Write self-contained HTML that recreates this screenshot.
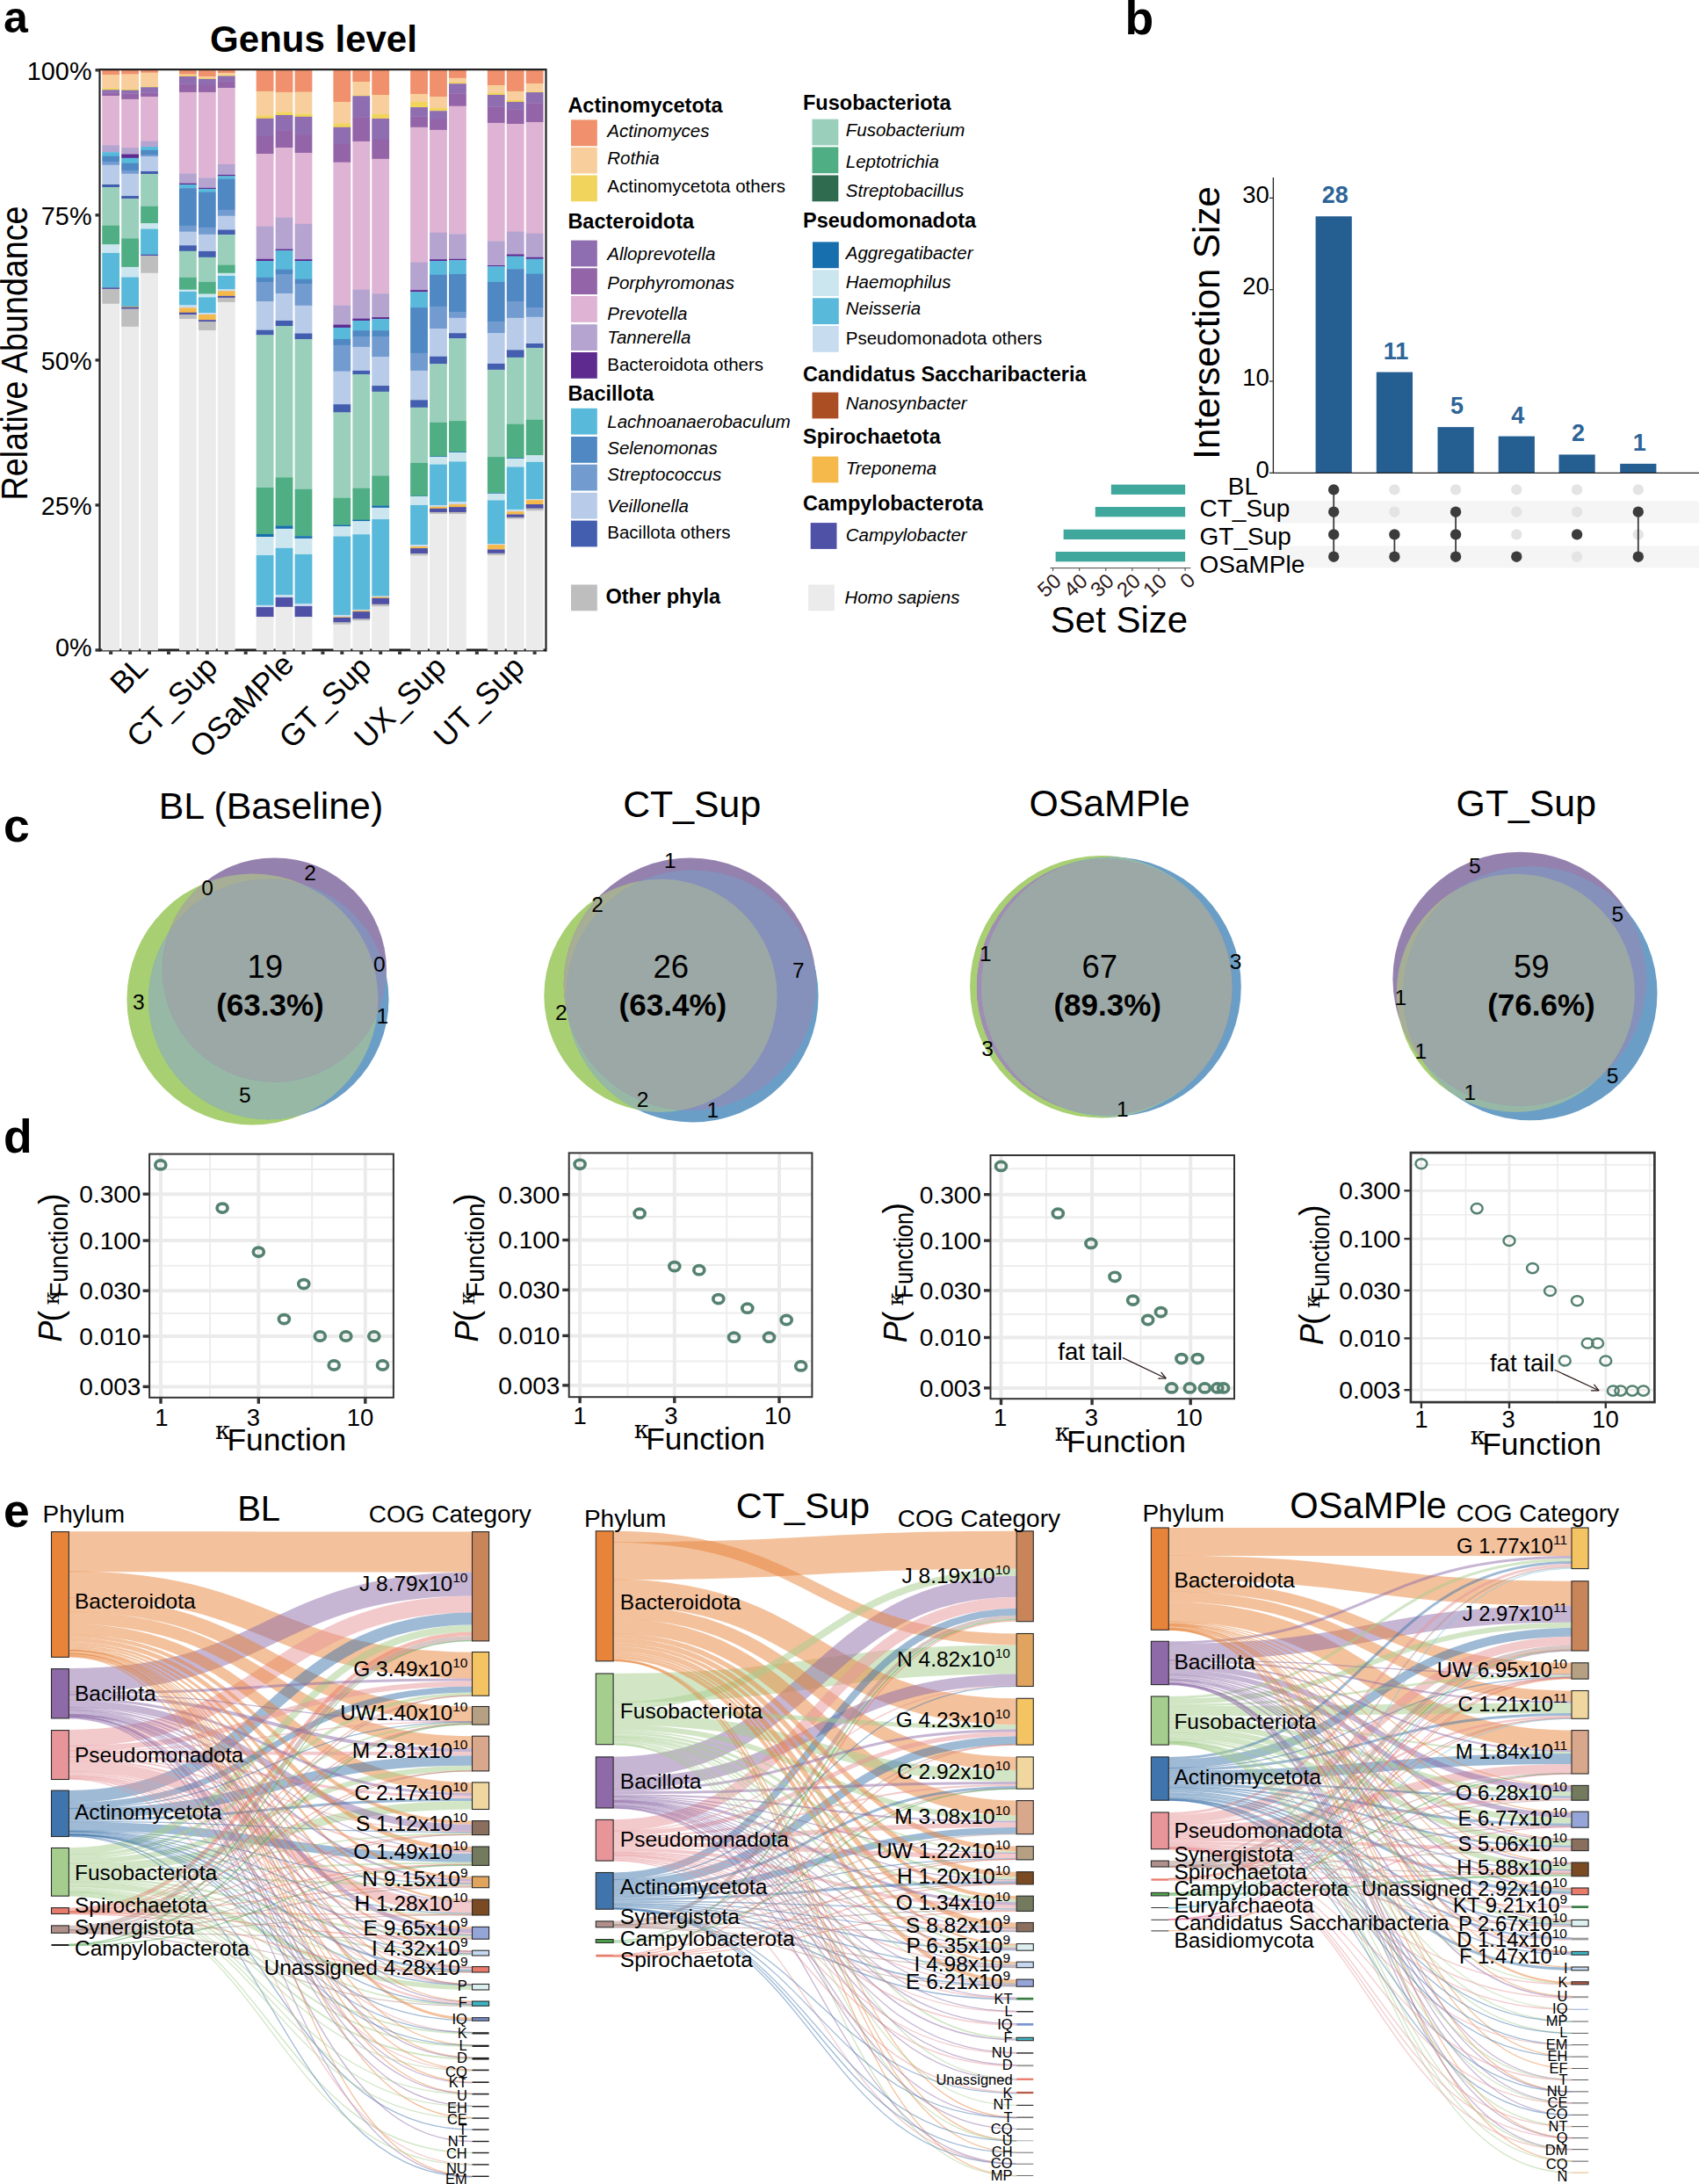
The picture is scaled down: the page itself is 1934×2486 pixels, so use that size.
<!DOCTYPE html>
<html><head><meta charset="utf-8"><title>Figure</title>
<style>html,body{margin:0;padding:0;background:#fff}svg{display:block}text{font-family:"Liberation Sans", sans-serif}</style>
</head><body>
<svg width="1934" height="2486" viewBox="0 0 1934 2486">
<rect width="1934" height="2486" fill="#fff"/>
<line x1="112.00" y1="740.00" x2="622.00" y2="740.00" stroke="#222" stroke-width="3"/>
<rect x="116.26" y="79.70" width="19.80" height="5.57" fill="#F0906C"/>
<rect x="116.26" y="84.97" width="19.80" height="15.64" fill="#F8CF9C"/>
<rect x="116.26" y="100.31" width="19.80" height="2.29" fill="#F0D45C"/>
<rect x="116.26" y="102.30" width="19.80" height="3.37" fill="#8E6DB0"/>
<rect x="116.26" y="105.37" width="19.80" height="3.98" fill="#9464A9"/>
<rect x="116.26" y="109.05" width="19.80" height="56.44" fill="#DFB3D3"/>
<rect x="116.26" y="165.20" width="19.80" height="8.28" fill="#B5A3D0"/>
<rect x="116.26" y="173.17" width="19.80" height="4.90" fill="#58B9DB"/>
<rect x="116.26" y="177.78" width="19.80" height="6.44" fill="#4F88C3"/>
<rect x="116.26" y="183.91" width="19.80" height="4.13" fill="#729BD0"/>
<rect x="116.26" y="187.75" width="19.80" height="22.54" fill="#B8CCE9"/>
<rect x="116.26" y="209.99" width="19.80" height="3.37" fill="#435EAF"/>
<rect x="116.26" y="213.06" width="19.80" height="44.02" fill="#9AD0BB"/>
<rect x="116.26" y="256.78" width="19.80" height="21.78" fill="#4FAE84"/>
<rect x="116.26" y="278.25" width="19.80" height="9.96" fill="#CBE6EE"/>
<rect x="116.26" y="287.92" width="19.80" height="39.72" fill="#58B9DB"/>
<rect x="116.26" y="327.34" width="19.80" height="1.83" fill="#4E51A6"/>
<rect x="116.26" y="328.87" width="19.80" height="17.17" fill="#BEBEBE"/>
<rect x="116.26" y="345.75" width="19.80" height="394.55" fill="#EBEBEB"/>
<rect x="138.19" y="79.70" width="19.80" height="5.11" fill="#F0906C"/>
<rect x="138.19" y="84.51" width="19.80" height="17.17" fill="#F8CF9C"/>
<rect x="138.19" y="101.38" width="19.80" height="1.53" fill="#F0D45C"/>
<rect x="138.19" y="102.61" width="19.80" height="4.13" fill="#8E6DB0"/>
<rect x="138.19" y="106.45" width="19.80" height="6.74" fill="#9464A9"/>
<rect x="138.19" y="112.89" width="19.80" height="55.52" fill="#DFB3D3"/>
<rect x="138.19" y="168.11" width="19.80" height="7.66" fill="#B5A3D0"/>
<rect x="138.19" y="175.48" width="19.80" height="4.60" fill="#5E2A90"/>
<rect x="138.19" y="179.77" width="19.80" height="6.28" fill="#58B9DB"/>
<rect x="138.19" y="185.75" width="19.80" height="8.43" fill="#4F88C3"/>
<rect x="138.19" y="193.88" width="19.80" height="4.13" fill="#729BD0"/>
<rect x="138.19" y="197.72" width="19.80" height="25.61" fill="#B8CCE9"/>
<rect x="138.19" y="223.03" width="19.80" height="3.37" fill="#435EAF"/>
<rect x="138.19" y="226.10" width="19.80" height="45.55" fill="#9AD0BB"/>
<rect x="138.19" y="271.35" width="19.80" height="32.82" fill="#4FAE84"/>
<rect x="138.19" y="303.87" width="19.80" height="11.96" fill="#CBE6EE"/>
<rect x="138.19" y="315.53" width="19.80" height="33.59" fill="#58B9DB"/>
<rect x="138.19" y="348.82" width="19.80" height="1.07" fill="#F4B94A"/>
<rect x="138.19" y="349.58" width="19.80" height="2.29" fill="#4E51A6"/>
<rect x="138.19" y="351.58" width="19.80" height="20.55" fill="#BEBEBE"/>
<rect x="138.19" y="371.82" width="19.80" height="368.48" fill="#EBEBEB"/>
<rect x="160.12" y="79.70" width="19.80" height="3.27" fill="#F0906C"/>
<rect x="160.12" y="82.67" width="19.80" height="15.95" fill="#F8CF9C"/>
<rect x="160.12" y="98.32" width="19.80" height="1.22" fill="#F0D45C"/>
<rect x="160.12" y="99.24" width="19.80" height="6.44" fill="#8E6DB0"/>
<rect x="160.12" y="105.37" width="19.80" height="4.90" fill="#9464A9"/>
<rect x="160.12" y="109.97" width="19.80" height="50.92" fill="#DFB3D3"/>
<rect x="160.12" y="160.60" width="19.80" height="6.74" fill="#B5A3D0"/>
<rect x="160.12" y="167.04" width="19.80" height="4.13" fill="#58B9DB"/>
<rect x="160.12" y="170.87" width="19.80" height="5.36" fill="#4F88C3"/>
<rect x="160.12" y="175.94" width="19.80" height="2.45" fill="#729BD0"/>
<rect x="160.12" y="178.08" width="19.80" height="17.17" fill="#B8CCE9"/>
<rect x="160.12" y="194.96" width="19.80" height="3.37" fill="#435EAF"/>
<rect x="160.12" y="198.03" width="19.80" height="37.12" fill="#9AD0BB"/>
<rect x="160.12" y="234.84" width="19.80" height="19.63" fill="#4FAE84"/>
<rect x="160.12" y="254.17" width="19.80" height="6.74" fill="#CBE6EE"/>
<rect x="160.12" y="260.61" width="19.80" height="29.45" fill="#58B9DB"/>
<rect x="160.12" y="289.76" width="19.80" height="1.53" fill="#4E51A6"/>
<rect x="160.12" y="290.98" width="19.80" height="20.09" fill="#BEBEBE"/>
<rect x="160.12" y="310.77" width="19.80" height="429.53" fill="#EBEBEB"/>
<rect x="203.98" y="79.70" width="19.80" height="5.11" fill="#F0906C"/>
<rect x="203.98" y="84.51" width="19.80" height="1.53" fill="#F8CF9C"/>
<rect x="203.98" y="85.74" width="19.80" height="1.53" fill="#F0D45C"/>
<rect x="203.98" y="86.97" width="19.80" height="8.58" fill="#8E6DB0"/>
<rect x="203.98" y="95.25" width="19.80" height="9.96" fill="#9464A9"/>
<rect x="203.98" y="104.91" width="19.80" height="92.80" fill="#DFB3D3"/>
<rect x="203.98" y="197.41" width="19.80" height="11.65" fill="#B5A3D0"/>
<rect x="203.98" y="208.76" width="19.80" height="1.53" fill="#5E2A90"/>
<rect x="203.98" y="209.99" width="19.80" height="4.44" fill="#58B9DB"/>
<rect x="203.98" y="214.13" width="19.80" height="42.94" fill="#4F88C3"/>
<rect x="203.98" y="256.78" width="19.80" height="7.20" fill="#729BD0"/>
<rect x="203.98" y="263.68" width="19.80" height="15.95" fill="#B8CCE9"/>
<rect x="203.98" y="279.33" width="19.80" height="6.74" fill="#435EAF"/>
<rect x="203.98" y="285.77" width="19.80" height="30.37" fill="#9AD0BB"/>
<rect x="203.98" y="315.83" width="19.80" height="14.11" fill="#4FAE84"/>
<rect x="203.98" y="329.64" width="19.80" height="2.60" fill="#CBE6EE"/>
<rect x="203.98" y="331.94" width="19.80" height="15.64" fill="#58B9DB"/>
<rect x="203.98" y="347.28" width="19.80" height="3.37" fill="#C8DCF0"/>
<rect x="203.98" y="350.35" width="19.80" height="5.67" fill="#F4B94A"/>
<rect x="203.98" y="355.72" width="19.80" height="2.60" fill="#4E51A6"/>
<rect x="203.98" y="358.02" width="19.80" height="5.21" fill="#BEBEBE"/>
<rect x="203.98" y="362.93" width="19.80" height="377.37" fill="#EBEBEB"/>
<rect x="225.91" y="79.70" width="19.80" height="7.57" fill="#F0906C"/>
<rect x="225.91" y="86.97" width="19.80" height="2.45" fill="#F8CF9C"/>
<rect x="225.91" y="89.11" width="19.80" height="1.07" fill="#F0D45C"/>
<rect x="225.91" y="89.88" width="19.80" height="7.20" fill="#8E6DB0"/>
<rect x="225.91" y="96.78" width="19.80" height="8.43" fill="#9464A9"/>
<rect x="225.91" y="104.91" width="19.80" height="97.71" fill="#DFB3D3"/>
<rect x="225.91" y="202.32" width="19.80" height="11.80" fill="#B5A3D0"/>
<rect x="225.91" y="213.82" width="19.80" height="1.37" fill="#5E2A90"/>
<rect x="225.91" y="214.90" width="19.80" height="4.13" fill="#58B9DB"/>
<rect x="225.91" y="218.73" width="19.80" height="40.34" fill="#4F88C3"/>
<rect x="225.91" y="258.77" width="19.80" height="8.28" fill="#729BD0"/>
<rect x="225.91" y="266.75" width="19.80" height="19.47" fill="#B8CCE9"/>
<rect x="225.91" y="285.92" width="19.80" height="7.20" fill="#435EAF"/>
<rect x="225.91" y="292.82" width="19.80" height="28.37" fill="#9AD0BB"/>
<rect x="225.91" y="320.90" width="19.80" height="13.95" fill="#4FAE84"/>
<rect x="225.91" y="334.55" width="19.80" height="4.13" fill="#CBE6EE"/>
<rect x="225.91" y="338.38" width="19.80" height="17.94" fill="#58B9DB"/>
<rect x="225.91" y="356.02" width="19.80" height="2.29" fill="#C8DCF0"/>
<rect x="225.91" y="358.02" width="19.80" height="6.44" fill="#F4B94A"/>
<rect x="225.91" y="364.15" width="19.80" height="2.29" fill="#4E51A6"/>
<rect x="225.91" y="366.15" width="19.80" height="10.12" fill="#BEBEBE"/>
<rect x="225.91" y="375.97" width="19.80" height="364.33" fill="#EBEBEB"/>
<rect x="247.84" y="79.70" width="19.80" height="3.58" fill="#F0906C"/>
<rect x="247.84" y="82.98" width="19.80" height="2.75" fill="#F8CF9C"/>
<rect x="247.84" y="85.43" width="19.80" height="1.37" fill="#F0D45C"/>
<rect x="247.84" y="86.50" width="19.80" height="5.98" fill="#8E6DB0"/>
<rect x="247.84" y="92.18" width="19.80" height="8.12" fill="#9464A9"/>
<rect x="247.84" y="100.00" width="19.80" height="87.28" fill="#DFB3D3"/>
<rect x="247.84" y="186.98" width="19.80" height="12.27" fill="#B5A3D0"/>
<rect x="247.84" y="198.95" width="19.80" height="1.68" fill="#5E2A90"/>
<rect x="247.84" y="200.33" width="19.80" height="3.52" fill="#58B9DB"/>
<rect x="247.84" y="203.55" width="19.80" height="35.58" fill="#4F88C3"/>
<rect x="247.84" y="238.83" width="19.80" height="7.20" fill="#729BD0"/>
<rect x="247.84" y="245.73" width="19.80" height="16.10" fill="#B8CCE9"/>
<rect x="247.84" y="261.53" width="19.80" height="5.82" fill="#435EAF"/>
<rect x="247.84" y="267.05" width="19.80" height="34.81" fill="#9AD0BB"/>
<rect x="247.84" y="301.57" width="19.80" height="9.50" fill="#4FAE84"/>
<rect x="247.84" y="310.77" width="19.80" height="3.52" fill="#CBE6EE"/>
<rect x="247.84" y="313.99" width="19.80" height="15.49" fill="#58B9DB"/>
<rect x="247.84" y="329.18" width="19.80" height="2.29" fill="#C8DCF0"/>
<rect x="247.84" y="331.17" width="19.80" height="5.98" fill="#F4B94A"/>
<rect x="247.84" y="336.85" width="19.80" height="2.29" fill="#4E51A6"/>
<rect x="247.84" y="338.84" width="19.80" height="5.36" fill="#BEBEBE"/>
<rect x="247.84" y="343.91" width="19.80" height="396.39" fill="#EBEBEB"/>
<rect x="291.70" y="79.70" width="19.80" height="24.44" fill="#F0906C"/>
<rect x="291.70" y="103.84" width="19.80" height="27.76" fill="#F8CF9C"/>
<rect x="291.70" y="131.30" width="19.80" height="3.83" fill="#F0D45C"/>
<rect x="291.70" y="134.83" width="19.80" height="20.24" fill="#8E6DB0"/>
<rect x="291.70" y="154.77" width="19.80" height="20.55" fill="#9464A9"/>
<rect x="291.70" y="175.02" width="19.80" height="82.83" fill="#DFB3D3"/>
<rect x="291.70" y="257.54" width="19.80" height="37.58" fill="#B5A3D0"/>
<rect x="291.70" y="294.82" width="19.80" height="2.45" fill="#5E2A90"/>
<rect x="291.70" y="296.97" width="19.80" height="19.17" fill="#58B9DB"/>
<rect x="291.70" y="315.83" width="19.80" height="5.36" fill="#4F88C3"/>
<rect x="291.70" y="320.90" width="19.80" height="22.54" fill="#729BD0"/>
<rect x="291.70" y="343.14" width="19.80" height="32.82" fill="#B8CCE9"/>
<rect x="291.70" y="375.66" width="19.80" height="5.98" fill="#435EAF"/>
<rect x="291.70" y="381.34" width="19.80" height="173.99" fill="#9AD0BB"/>
<rect x="291.70" y="555.02" width="19.80" height="53.22" fill="#4FAE84"/>
<rect x="291.70" y="607.95" width="19.80" height="3.37" fill="#176FAE"/>
<rect x="291.70" y="611.01" width="19.80" height="21.32" fill="#CBE6EE"/>
<rect x="291.70" y="632.03" width="19.80" height="57.06" fill="#58B9DB"/>
<rect x="291.70" y="688.79" width="19.80" height="2.60" fill="#C8DCF0"/>
<rect x="291.70" y="691.09" width="19.80" height="11.34" fill="#4E51A6"/>
<rect x="291.70" y="702.13" width="19.80" height="38.17" fill="#EBEBEB"/>
<rect x="313.63" y="79.70" width="19.80" height="25.51" fill="#F0906C"/>
<rect x="313.63" y="104.91" width="19.80" height="23.00" fill="#F8CF9C"/>
<rect x="313.63" y="127.62" width="19.80" height="3.67" fill="#F0D45C"/>
<rect x="313.63" y="130.99" width="19.80" height="17.94" fill="#8E6DB0"/>
<rect x="313.63" y="148.63" width="19.80" height="19.78" fill="#9464A9"/>
<rect x="313.63" y="168.11" width="19.80" height="79.76" fill="#DFB3D3"/>
<rect x="313.63" y="247.57" width="19.80" height="36.35" fill="#B5A3D0"/>
<rect x="313.63" y="283.62" width="19.80" height="1.83" fill="#5E2A90"/>
<rect x="313.63" y="285.15" width="19.80" height="21.78" fill="#58B9DB"/>
<rect x="313.63" y="306.63" width="19.80" height="5.67" fill="#4F88C3"/>
<rect x="313.63" y="312.00" width="19.80" height="22.24" fill="#729BD0"/>
<rect x="313.63" y="333.94" width="19.80" height="31.29" fill="#B8CCE9"/>
<rect x="313.63" y="364.92" width="19.80" height="6.44" fill="#435EAF"/>
<rect x="313.63" y="371.06" width="19.80" height="172.61" fill="#9AD0BB"/>
<rect x="313.63" y="543.36" width="19.80" height="55.52" fill="#4FAE84"/>
<rect x="313.63" y="598.59" width="19.80" height="3.52" fill="#176FAE"/>
<rect x="313.63" y="601.81" width="19.80" height="22.39" fill="#CBE6EE"/>
<rect x="313.63" y="623.90" width="19.80" height="53.38" fill="#58B9DB"/>
<rect x="313.63" y="676.97" width="19.80" height="3.37" fill="#C8DCF0"/>
<rect x="313.63" y="680.04" width="19.80" height="11.04" fill="#4E51A6"/>
<rect x="313.63" y="690.78" width="19.80" height="49.52" fill="#EBEBEB"/>
<rect x="335.56" y="79.70" width="19.80" height="25.21" fill="#F0906C"/>
<rect x="335.56" y="104.61" width="19.80" height="25.15" fill="#F8CF9C"/>
<rect x="335.56" y="129.46" width="19.80" height="3.67" fill="#F0D45C"/>
<rect x="335.56" y="132.83" width="19.80" height="21.16" fill="#8E6DB0"/>
<rect x="335.56" y="153.69" width="19.80" height="20.55" fill="#9464A9"/>
<rect x="335.56" y="173.94" width="19.80" height="81.14" fill="#DFB3D3"/>
<rect x="335.56" y="254.78" width="19.80" height="40.64" fill="#B5A3D0"/>
<rect x="335.56" y="295.13" width="19.80" height="2.14" fill="#5E2A90"/>
<rect x="335.56" y="296.97" width="19.80" height="21.01" fill="#58B9DB"/>
<rect x="335.56" y="317.68" width="19.80" height="5.67" fill="#4F88C3"/>
<rect x="335.56" y="323.04" width="19.80" height="25.00" fill="#729BD0"/>
<rect x="335.56" y="347.74" width="19.80" height="32.05" fill="#B8CCE9"/>
<rect x="335.56" y="379.49" width="19.80" height="6.90" fill="#435EAF"/>
<rect x="335.56" y="386.09" width="19.80" height="171.07" fill="#9AD0BB"/>
<rect x="335.56" y="556.86" width="19.80" height="53.68" fill="#4FAE84"/>
<rect x="335.56" y="610.25" width="19.80" height="2.91" fill="#176FAE"/>
<rect x="335.56" y="612.85" width="19.80" height="18.40" fill="#CBE6EE"/>
<rect x="335.56" y="630.95" width="19.80" height="56.29" fill="#58B9DB"/>
<rect x="335.56" y="686.95" width="19.80" height="3.37" fill="#C8DCF0"/>
<rect x="335.56" y="690.01" width="19.80" height="12.42" fill="#4E51A6"/>
<rect x="335.56" y="702.13" width="19.80" height="38.17" fill="#EBEBEB"/>
<rect x="379.42" y="79.70" width="19.80" height="36.56" fill="#F0906C"/>
<rect x="379.42" y="115.96" width="19.80" height="25.00" fill="#F8CF9C"/>
<rect x="379.42" y="140.65" width="19.80" height="4.44" fill="#F0D45C"/>
<rect x="379.42" y="144.80" width="19.80" height="19.47" fill="#8E6DB0"/>
<rect x="379.42" y="163.97" width="19.80" height="21.01" fill="#9464A9"/>
<rect x="379.42" y="184.68" width="19.80" height="163.21" fill="#DFB3D3"/>
<rect x="379.42" y="347.59" width="19.80" height="22.24" fill="#B5A3D0"/>
<rect x="379.42" y="369.52" width="19.80" height="3.67" fill="#5E2A90"/>
<rect x="379.42" y="372.90" width="19.80" height="13.34" fill="#58B9DB"/>
<rect x="379.42" y="385.94" width="19.80" height="7.20" fill="#4F88C3"/>
<rect x="379.42" y="392.84" width="19.80" height="30.10" fill="#729BD0"/>
<rect x="379.42" y="422.64" width="19.80" height="37.88" fill="#B8CCE9"/>
<rect x="379.42" y="460.22" width="19.80" height="9.50" fill="#435EAF"/>
<rect x="379.42" y="469.43" width="19.80" height="97.71" fill="#9AD0BB"/>
<rect x="379.42" y="566.83" width="19.80" height="30.98" fill="#4FAE84"/>
<rect x="379.42" y="597.51" width="19.80" height="1.83" fill="#176FAE"/>
<rect x="379.42" y="599.05" width="19.80" height="11.80" fill="#CBE6EE"/>
<rect x="379.42" y="610.55" width="19.80" height="89.73" fill="#58B9DB"/>
<rect x="379.42" y="699.98" width="19.80" height="2.45" fill="#C8DCF0"/>
<rect x="379.42" y="702.13" width="19.80" height="1.07" fill="#F4B94A"/>
<rect x="379.42" y="702.90" width="19.80" height="5.82" fill="#4E51A6"/>
<rect x="379.42" y="708.42" width="19.80" height="2.60" fill="#BEBEBE"/>
<rect x="379.42" y="710.72" width="19.80" height="29.58" fill="#EBEBEB"/>
<rect x="401.35" y="79.70" width="19.80" height="13.55" fill="#F0906C"/>
<rect x="401.35" y="92.95" width="19.80" height="15.64" fill="#F8CF9C"/>
<rect x="401.35" y="108.29" width="19.80" height="1.22" fill="#F0D45C"/>
<rect x="401.35" y="109.21" width="19.80" height="24.69" fill="#8E6DB0"/>
<rect x="401.35" y="133.60" width="19.80" height="27.60" fill="#9464A9"/>
<rect x="401.35" y="160.90" width="19.80" height="169.04" fill="#DFB3D3"/>
<rect x="401.35" y="329.64" width="19.80" height="33.28" fill="#B5A3D0"/>
<rect x="401.35" y="362.62" width="19.80" height="2.60" fill="#5E2A90"/>
<rect x="401.35" y="364.92" width="19.80" height="11.50" fill="#58B9DB"/>
<rect x="401.35" y="376.12" width="19.80" height="7.05" fill="#4F88C3"/>
<rect x="401.35" y="382.87" width="19.80" height="12.27" fill="#729BD0"/>
<rect x="401.35" y="394.83" width="19.80" height="27.34" fill="#B8CCE9"/>
<rect x="401.35" y="421.87" width="19.80" height="4.60" fill="#435EAF"/>
<rect x="401.35" y="426.17" width="19.80" height="129.92" fill="#9AD0BB"/>
<rect x="401.35" y="555.79" width="19.80" height="36.20" fill="#4FAE84"/>
<rect x="401.35" y="591.69" width="19.80" height="1.83" fill="#176FAE"/>
<rect x="401.35" y="593.22" width="19.80" height="15.33" fill="#CBE6EE"/>
<rect x="401.35" y="608.25" width="19.80" height="85.90" fill="#58B9DB"/>
<rect x="401.35" y="693.85" width="19.80" height="1.37" fill="#C8DCF0"/>
<rect x="401.35" y="694.92" width="19.80" height="1.53" fill="#F4B94A"/>
<rect x="401.35" y="696.15" width="19.80" height="8.58" fill="#4E51A6"/>
<rect x="401.35" y="704.43" width="19.80" height="2.29" fill="#BEBEBE"/>
<rect x="401.35" y="706.43" width="19.80" height="33.87" fill="#EBEBEB"/>
<rect x="423.28" y="79.70" width="19.80" height="28.58" fill="#F0906C"/>
<rect x="423.28" y="107.98" width="19.80" height="22.24" fill="#F8CF9C"/>
<rect x="423.28" y="129.92" width="19.80" height="5.36" fill="#F0D45C"/>
<rect x="423.28" y="134.98" width="19.80" height="24.23" fill="#8E6DB0"/>
<rect x="423.28" y="158.91" width="19.80" height="22.24" fill="#9464A9"/>
<rect x="423.28" y="180.84" width="19.80" height="153.70" fill="#DFB3D3"/>
<rect x="423.28" y="334.24" width="19.80" height="27.14" fill="#B5A3D0"/>
<rect x="423.28" y="361.09" width="19.80" height="2.29" fill="#5E2A90"/>
<rect x="423.28" y="363.08" width="19.80" height="13.34" fill="#58B9DB"/>
<rect x="423.28" y="376.12" width="19.80" height="7.05" fill="#4F88C3"/>
<rect x="423.28" y="382.87" width="19.80" height="23.66" fill="#729BD0"/>
<rect x="423.28" y="406.23" width="19.80" height="33.13" fill="#B8CCE9"/>
<rect x="423.28" y="439.05" width="19.80" height="7.05" fill="#435EAF"/>
<rect x="423.28" y="445.80" width="19.80" height="96.02" fill="#9AD0BB"/>
<rect x="423.28" y="541.52" width="19.80" height="34.35" fill="#4FAE84"/>
<rect x="423.28" y="575.58" width="19.80" height="2.60" fill="#176FAE"/>
<rect x="423.28" y="577.88" width="19.80" height="13.49" fill="#CBE6EE"/>
<rect x="423.28" y="591.07" width="19.80" height="87.74" fill="#58B9DB"/>
<rect x="423.28" y="678.51" width="19.80" height="1.37" fill="#C8DCF0"/>
<rect x="423.28" y="679.58" width="19.80" height="1.53" fill="#F4B94A"/>
<rect x="423.28" y="680.81" width="19.80" height="7.20" fill="#4E51A6"/>
<rect x="423.28" y="687.71" width="19.80" height="2.91" fill="#BEBEBE"/>
<rect x="423.28" y="690.32" width="19.80" height="49.98" fill="#EBEBEB"/>
<rect x="467.14" y="79.70" width="19.80" height="27.51" fill="#F0906C"/>
<rect x="467.14" y="106.91" width="19.80" height="9.35" fill="#F8CF9C"/>
<rect x="467.14" y="115.96" width="19.80" height="6.44" fill="#F0D45C"/>
<rect x="467.14" y="122.09" width="19.80" height="10.73" fill="#8E6DB0"/>
<rect x="467.14" y="132.52" width="19.80" height="12.57" fill="#9464A9"/>
<rect x="467.14" y="144.80" width="19.80" height="154.16" fill="#DFB3D3"/>
<rect x="467.14" y="298.65" width="19.80" height="31.75" fill="#B5A3D0"/>
<rect x="467.14" y="330.10" width="19.80" height="2.45" fill="#5E2A90"/>
<rect x="467.14" y="332.25" width="19.80" height="18.09" fill="#58B9DB"/>
<rect x="467.14" y="350.04" width="19.80" height="52.00" fill="#4F88C3"/>
<rect x="467.14" y="401.74" width="19.80" height="20.44" fill="#729BD0"/>
<rect x="467.14" y="421.87" width="19.80" height="33.74" fill="#B8CCE9"/>
<rect x="467.14" y="455.31" width="19.80" height="8.74" fill="#435EAF"/>
<rect x="467.14" y="463.75" width="19.80" height="63.50" fill="#9AD0BB"/>
<rect x="467.14" y="526.95" width="19.80" height="37.88" fill="#4FAE84"/>
<rect x="467.14" y="564.53" width="19.80" height="0.76" fill="#176FAE"/>
<rect x="467.14" y="564.99" width="19.80" height="10.27" fill="#CBE6EE"/>
<rect x="467.14" y="574.96" width="19.80" height="45.40" fill="#58B9DB"/>
<rect x="467.14" y="620.06" width="19.80" height="2.29" fill="#C8DCF0"/>
<rect x="467.14" y="622.06" width="19.80" height="2.29" fill="#F4B94A"/>
<rect x="467.14" y="624.05" width="19.80" height="6.28" fill="#4E51A6"/>
<rect x="467.14" y="630.03" width="19.80" height="2.75" fill="#BEBEBE"/>
<rect x="467.14" y="632.49" width="19.80" height="107.81" fill="#EBEBEB"/>
<rect x="489.07" y="79.70" width="19.80" height="30.57" fill="#F0906C"/>
<rect x="489.07" y="109.97" width="19.80" height="13.19" fill="#F8CF9C"/>
<rect x="489.07" y="122.86" width="19.80" height="3.67" fill="#F0D45C"/>
<rect x="489.07" y="126.23" width="19.80" height="9.96" fill="#8E6DB0"/>
<rect x="489.07" y="135.90" width="19.80" height="12.27" fill="#9464A9"/>
<rect x="489.07" y="147.86" width="19.80" height="117.19" fill="#DFB3D3"/>
<rect x="489.07" y="264.75" width="19.80" height="30.67" fill="#B5A3D0"/>
<rect x="489.07" y="295.13" width="19.80" height="2.14" fill="#5E2A90"/>
<rect x="489.07" y="296.97" width="19.80" height="16.10" fill="#58B9DB"/>
<rect x="489.07" y="312.77" width="19.80" height="36.35" fill="#4F88C3"/>
<rect x="489.07" y="348.82" width="19.80" height="25.61" fill="#729BD0"/>
<rect x="489.07" y="374.13" width="19.80" height="31.94" fill="#B8CCE9"/>
<rect x="489.07" y="405.77" width="19.80" height="8.74" fill="#435EAF"/>
<rect x="489.07" y="414.20" width="19.80" height="67.03" fill="#9AD0BB"/>
<rect x="489.07" y="480.93" width="19.80" height="38.65" fill="#4FAE84"/>
<rect x="489.07" y="519.28" width="19.80" height="1.07" fill="#176FAE"/>
<rect x="489.07" y="520.05" width="19.80" height="8.89" fill="#CBE6EE"/>
<rect x="489.07" y="528.64" width="19.80" height="46.63" fill="#58B9DB"/>
<rect x="489.07" y="574.96" width="19.80" height="2.14" fill="#C8DCF0"/>
<rect x="489.07" y="576.81" width="19.80" height="2.29" fill="#F4B94A"/>
<rect x="489.07" y="578.80" width="19.80" height="4.44" fill="#4E51A6"/>
<rect x="489.07" y="582.94" width="19.80" height="2.29" fill="#BEBEBE"/>
<rect x="489.07" y="584.94" width="19.80" height="155.36" fill="#EBEBEB"/>
<rect x="511.00" y="79.70" width="19.80" height="9.41" fill="#F0906C"/>
<rect x="511.00" y="88.81" width="19.80" height="5.21" fill="#F8CF9C"/>
<rect x="511.00" y="93.71" width="19.80" height="1.83" fill="#F0D45C"/>
<rect x="511.00" y="95.25" width="19.80" height="11.50" fill="#8E6DB0"/>
<rect x="511.00" y="106.45" width="19.80" height="14.57" fill="#9464A9"/>
<rect x="511.00" y="120.71" width="19.80" height="145.87" fill="#DFB3D3"/>
<rect x="511.00" y="266.29" width="19.80" height="28.83" fill="#B5A3D0"/>
<rect x="511.00" y="294.82" width="19.80" height="1.68" fill="#5E2A90"/>
<rect x="511.00" y="296.20" width="19.80" height="16.10" fill="#58B9DB"/>
<rect x="511.00" y="312.00" width="19.80" height="43.25" fill="#4F88C3"/>
<rect x="511.00" y="354.95" width="19.80" height="7.20" fill="#729BD0"/>
<rect x="511.00" y="361.85" width="19.80" height="17.63" fill="#B8CCE9"/>
<rect x="511.00" y="379.19" width="19.80" height="6.28" fill="#435EAF"/>
<rect x="511.00" y="385.17" width="19.80" height="94.22" fill="#9AD0BB"/>
<rect x="511.00" y="479.09" width="19.80" height="35.43" fill="#4FAE84"/>
<rect x="511.00" y="514.22" width="19.80" height="1.07" fill="#176FAE"/>
<rect x="511.00" y="514.99" width="19.80" height="10.73" fill="#CBE6EE"/>
<rect x="511.00" y="525.42" width="19.80" height="46.01" fill="#58B9DB"/>
<rect x="511.00" y="571.13" width="19.80" height="3.21" fill="#C8DCF0"/>
<rect x="511.00" y="574.04" width="19.80" height="3.37" fill="#F4B94A"/>
<rect x="511.00" y="577.11" width="19.80" height="6.13" fill="#4E51A6"/>
<rect x="511.00" y="582.94" width="19.80" height="2.60" fill="#BEBEBE"/>
<rect x="511.00" y="585.24" width="19.80" height="155.06" fill="#EBEBEB"/>
<rect x="554.86" y="79.70" width="19.80" height="17.54" fill="#F0906C"/>
<rect x="554.86" y="96.94" width="19.80" height="9.04" fill="#F8CF9C"/>
<rect x="554.86" y="105.68" width="19.80" height="2.60" fill="#F0D45C"/>
<rect x="554.86" y="107.98" width="19.80" height="13.80" fill="#8E6DB0"/>
<rect x="554.86" y="121.48" width="19.80" height="18.71" fill="#9464A9"/>
<rect x="554.86" y="139.89" width="19.80" height="134.83" fill="#DFB3D3"/>
<rect x="554.86" y="274.42" width="19.80" height="27.91" fill="#B5A3D0"/>
<rect x="554.86" y="302.03" width="19.80" height="1.53" fill="#5E2A90"/>
<rect x="554.86" y="303.26" width="19.80" height="17.94" fill="#58B9DB"/>
<rect x="554.86" y="320.90" width="19.80" height="45.86" fill="#4F88C3"/>
<rect x="554.86" y="366.46" width="19.80" height="12.88" fill="#729BD0"/>
<rect x="554.86" y="379.03" width="19.80" height="35.16" fill="#B8CCE9"/>
<rect x="554.86" y="413.90" width="19.80" height="7.20" fill="#435EAF"/>
<rect x="554.86" y="420.80" width="19.80" height="99.55" fill="#9AD0BB"/>
<rect x="554.86" y="520.05" width="19.80" height="41.41" fill="#4FAE84"/>
<rect x="554.86" y="561.16" width="19.80" height="0.91" fill="#176FAE"/>
<rect x="554.86" y="561.77" width="19.80" height="7.97" fill="#CBE6EE"/>
<rect x="554.86" y="569.44" width="19.80" height="49.85" fill="#58B9DB"/>
<rect x="554.86" y="618.99" width="19.80" height="1.37" fill="#C8DCF0"/>
<rect x="554.86" y="620.06" width="19.80" height="5.67" fill="#F4B94A"/>
<rect x="554.86" y="625.43" width="19.80" height="4.60" fill="#4E51A6"/>
<rect x="554.86" y="629.73" width="19.80" height="2.60" fill="#BEBEBE"/>
<rect x="554.86" y="632.03" width="19.80" height="108.27" fill="#EBEBEB"/>
<rect x="576.79" y="79.70" width="19.80" height="24.44" fill="#F0906C"/>
<rect x="576.79" y="103.84" width="19.80" height="10.42" fill="#F8CF9C"/>
<rect x="576.79" y="113.96" width="19.80" height="2.29" fill="#F0D45C"/>
<rect x="576.79" y="115.96" width="19.80" height="8.89" fill="#8E6DB0"/>
<rect x="576.79" y="124.55" width="19.80" height="16.71" fill="#9464A9"/>
<rect x="576.79" y="140.96" width="19.80" height="123.02" fill="#DFB3D3"/>
<rect x="576.79" y="263.68" width="19.80" height="26.07" fill="#B5A3D0"/>
<rect x="576.79" y="289.45" width="19.80" height="2.45" fill="#5E2A90"/>
<rect x="576.79" y="291.60" width="19.80" height="14.87" fill="#58B9DB"/>
<rect x="576.79" y="306.17" width="19.80" height="37.12" fill="#4F88C3"/>
<rect x="576.79" y="342.99" width="19.80" height="19.17" fill="#729BD0"/>
<rect x="576.79" y="361.85" width="19.80" height="36.81" fill="#B8CCE9"/>
<rect x="576.79" y="398.36" width="19.80" height="8.78" fill="#435EAF"/>
<rect x="576.79" y="406.84" width="19.80" height="76.23" fill="#9AD0BB"/>
<rect x="576.79" y="482.77" width="19.80" height="38.80" fill="#4FAE84"/>
<rect x="576.79" y="521.28" width="19.80" height="1.07" fill="#176FAE"/>
<rect x="576.79" y="522.04" width="19.80" height="9.81" fill="#CBE6EE"/>
<rect x="576.79" y="531.55" width="19.80" height="48.62" fill="#58B9DB"/>
<rect x="576.79" y="579.87" width="19.80" height="2.60" fill="#C8DCF0"/>
<rect x="576.79" y="582.17" width="19.80" height="3.67" fill="#F4B94A"/>
<rect x="576.79" y="585.55" width="19.80" height="3.52" fill="#4E51A6"/>
<rect x="576.79" y="588.77" width="19.80" height="2.14" fill="#BEBEBE"/>
<rect x="576.79" y="590.61" width="19.80" height="149.69" fill="#EBEBEB"/>
<rect x="598.72" y="79.70" width="19.80" height="15.54" fill="#F0906C"/>
<rect x="598.72" y="94.94" width="19.80" height="9.50" fill="#F8CF9C"/>
<rect x="598.72" y="104.15" width="19.80" height="1.22" fill="#F0D45C"/>
<rect x="598.72" y="105.07" width="19.80" height="12.73" fill="#8E6DB0"/>
<rect x="598.72" y="117.49" width="19.80" height="21.78" fill="#9464A9"/>
<rect x="598.72" y="138.97" width="19.80" height="127.01" fill="#DFB3D3"/>
<rect x="598.72" y="265.67" width="19.80" height="27.45" fill="#B5A3D0"/>
<rect x="598.72" y="292.82" width="19.80" height="2.14" fill="#5E2A90"/>
<rect x="598.72" y="294.67" width="19.80" height="17.33" fill="#58B9DB"/>
<rect x="598.72" y="311.69" width="19.80" height="38.65" fill="#4F88C3"/>
<rect x="598.72" y="350.04" width="19.80" height="11.04" fill="#729BD0"/>
<rect x="598.72" y="360.78" width="19.80" height="30.52" fill="#B8CCE9"/>
<rect x="598.72" y="391.00" width="19.80" height="5.21" fill="#435EAF"/>
<rect x="598.72" y="395.91" width="19.80" height="82.26" fill="#9AD0BB"/>
<rect x="598.72" y="477.86" width="19.80" height="40.64" fill="#4FAE84"/>
<rect x="598.72" y="518.21" width="19.80" height="7.97" fill="#CBE6EE"/>
<rect x="598.72" y="525.88" width="19.80" height="42.48" fill="#58B9DB"/>
<rect x="598.72" y="568.06" width="19.80" height="1.37" fill="#C8DCF0"/>
<rect x="598.72" y="569.14" width="19.80" height="5.21" fill="#F4B94A"/>
<rect x="598.72" y="574.04" width="19.80" height="4.90" fill="#4E51A6"/>
<rect x="598.72" y="578.65" width="19.80" height="3.06" fill="#BEBEBE"/>
<rect x="598.72" y="581.41" width="19.80" height="158.89" fill="#EBEBEB"/>
<path d="M113.5,741.5 V79.2 H621.5 V741.5" fill="none" stroke="#222" stroke-width="2.2"/>
<rect x="124.16" y="741.30" width="4.00" height="3.60" fill="#333"/>
<rect x="146.09" y="741.30" width="4.00" height="3.60" fill="#333"/>
<rect x="168.02" y="741.30" width="4.00" height="3.60" fill="#333"/>
<rect x="189.95" y="741.30" width="4.00" height="3.60" fill="#333"/>
<rect x="211.88" y="741.30" width="4.00" height="3.60" fill="#333"/>
<rect x="233.81" y="741.30" width="4.00" height="3.60" fill="#333"/>
<rect x="255.74" y="741.30" width="4.00" height="3.60" fill="#333"/>
<rect x="277.67" y="741.30" width="4.00" height="3.60" fill="#333"/>
<rect x="299.60" y="741.30" width="4.00" height="3.60" fill="#333"/>
<rect x="321.53" y="741.30" width="4.00" height="3.60" fill="#333"/>
<rect x="343.46" y="741.30" width="4.00" height="3.60" fill="#333"/>
<rect x="365.39" y="741.30" width="4.00" height="3.60" fill="#333"/>
<rect x="387.32" y="741.30" width="4.00" height="3.60" fill="#333"/>
<rect x="409.25" y="741.30" width="4.00" height="3.60" fill="#333"/>
<rect x="431.18" y="741.30" width="4.00" height="3.60" fill="#333"/>
<rect x="453.11" y="741.30" width="4.00" height="3.60" fill="#333"/>
<rect x="475.04" y="741.30" width="4.00" height="3.60" fill="#333"/>
<rect x="496.97" y="741.30" width="4.00" height="3.60" fill="#333"/>
<rect x="518.90" y="741.30" width="4.00" height="3.60" fill="#333"/>
<rect x="540.83" y="741.30" width="4.00" height="3.60" fill="#333"/>
<rect x="562.76" y="741.30" width="4.00" height="3.60" fill="#333"/>
<rect x="584.69" y="741.30" width="4.00" height="3.60" fill="#333"/>
<rect x="606.62" y="741.30" width="4.00" height="3.60" fill="#333"/>
<rect x="108.50" y="78.10" width="4.50" height="3.40" fill="#333"/>
<text x="104.5" y="90.8" font-size="28.8" text-anchor="end">100%</text>
<rect x="108.50" y="243.15" width="4.50" height="3.40" fill="#333"/>
<text x="104.5" y="255.9" font-size="28.8" text-anchor="end">75%</text>
<rect x="108.50" y="408.20" width="4.50" height="3.40" fill="#333"/>
<text x="104.5" y="420.9" font-size="28.8" text-anchor="end">50%</text>
<rect x="108.50" y="573.25" width="4.50" height="3.40" fill="#333"/>
<text x="104.5" y="586.0" font-size="28.8" text-anchor="end">25%</text>
<rect x="108.50" y="738.30" width="4.50" height="3.40" fill="#333"/>
<text x="104.5" y="746.8" font-size="28.8" text-anchor="end">0%</text>
<text x="31.1" y="569.5" font-size="42.5" transform="rotate(-90 31.1 569.5)" textLength="335" lengthAdjust="spacingAndGlyphs">Relative Abundance</text>
<text x="357.0" y="59.3" font-size="42" text-anchor="middle" font-weight="bold">Genus level</text>
<text x="4.0" y="37.0" font-size="50" font-weight="bold">a</text>
<text x="170.2" y="761.5" font-size="35" text-anchor="end" transform="rotate(-45 170.2 761.5)">BL</text>
<text x="249.5" y="761.6" font-size="35" text-anchor="end" transform="rotate(-45 249.5 761.6)">CT_Sup</text>
<text x="336.5" y="758.6" font-size="35" text-anchor="end" transform="rotate(-45 336.5 758.6)">OSaMPle</text>
<text x="424.5" y="761.6" font-size="35" text-anchor="end" transform="rotate(-45 424.5 761.6)">GT_Sup</text>
<text x="510.0" y="761.6" font-size="35" text-anchor="end" transform="rotate(-45 510.0 761.6)">UX_Sup</text>
<text x="599.0" y="761.6" font-size="35" text-anchor="end" transform="rotate(-45 599.0 761.6)">UT_Sup</text>
<text x="646.4" y="127.6" font-size="23.5" font-weight="bold">Actinomycetota</text>
<text x="646.4" y="260.4" font-size="23.5" font-weight="bold">Bacteroidota</text>
<text x="646.4" y="456.4" font-size="23.5" font-weight="bold">Bacillota</text>
<text x="914.0" y="124.7" font-size="23.5" font-weight="bold">Fusobacteriota</text>
<text x="914.0" y="258.6" font-size="23.5" font-weight="bold">Pseudomonadota</text>
<text x="914.0" y="433.8" font-size="23.5" font-weight="bold">Candidatus Saccharibacteria</text>
<text x="914.0" y="505.0" font-size="23.5" font-weight="bold">Spirochaetota</text>
<text x="914.0" y="580.5" font-size="23.5" font-weight="bold">Campylobacterota</text>
<rect x="650.00" y="136.40" width="29.80" height="29.80" fill="#F0906C"/>
<text x="691.3" y="155.7" font-size="20.5" font-style="italic">Actinomyces</text>
<rect x="650.00" y="167.70" width="29.80" height="29.80" fill="#F8CF9C"/>
<text x="691.3" y="186.7" font-size="20.5" font-style="italic">Rothia</text>
<rect x="650.00" y="199.50" width="29.80" height="29.80" fill="#F0D45C"/>
<text x="691.3" y="218.5" font-size="20.5">Actinomycetota others</text>
<rect x="650.00" y="273.60" width="29.80" height="29.80" fill="#8E6DB0"/>
<text x="691.3" y="296.2" font-size="20.5" font-style="italic">Alloprevotella</text>
<rect x="650.00" y="305.30" width="29.80" height="29.80" fill="#9464A9"/>
<text x="691.3" y="329.0" font-size="20.5" font-style="italic">Porphyromonas</text>
<rect x="650.00" y="337.00" width="29.80" height="29.80" fill="#DFB3D3"/>
<text x="691.3" y="363.7" font-size="20.5" font-style="italic">Prevotella</text>
<rect x="650.00" y="369.20" width="29.80" height="29.80" fill="#B5A3D0"/>
<text x="691.3" y="391.1" font-size="20.5" font-style="italic">Tannerella</text>
<rect x="650.00" y="401.00" width="29.80" height="29.80" fill="#5E2A90"/>
<text x="691.3" y="421.6" font-size="20.5">Bacteroidota others</text>
<rect x="650.00" y="464.80" width="29.80" height="29.80" fill="#58B9DB"/>
<text x="691.3" y="486.7" font-size="20.5" font-style="italic">Lachnoanaerobaculum</text>
<rect x="650.00" y="497.00" width="29.80" height="29.80" fill="#4F88C3"/>
<text x="691.3" y="516.6" font-size="20.5" font-style="italic">Selenomonas</text>
<rect x="650.00" y="528.70" width="29.80" height="29.80" fill="#729BD0"/>
<text x="691.3" y="547.0" font-size="20.5" font-style="italic">Streptococcus</text>
<rect x="650.00" y="560.80" width="29.80" height="29.80" fill="#B8CCE9"/>
<text x="691.3" y="583.4" font-size="20.5" font-style="italic">Veillonella</text>
<rect x="650.00" y="592.60" width="29.80" height="29.80" fill="#435EAF"/>
<text x="691.3" y="612.6" font-size="20.5">Bacillota others</text>
<rect x="924.50" y="135.60" width="29.80" height="29.80" fill="#9AD0BB"/>
<text x="962.8" y="154.6" font-size="20.5" font-style="italic">Fusobacterium</text>
<rect x="924.50" y="167.40" width="29.80" height="29.80" fill="#4FAE84"/>
<text x="962.8" y="191.1" font-size="20.5" font-style="italic">Leptotrichia</text>
<rect x="924.50" y="199.50" width="29.80" height="29.80" fill="#2E6B4F"/>
<text x="962.8" y="223.9" font-size="20.5" font-style="italic">Streptobacillus</text>
<rect x="925.00" y="275.40" width="29.80" height="29.80" fill="#176FAE"/>
<text x="962.8" y="295.1" font-size="20.5" font-style="italic">Aggregatibacter</text>
<rect x="925.00" y="307.20" width="29.80" height="29.80" fill="#CBE6EE"/>
<text x="962.8" y="328.0" font-size="20.5" font-style="italic">Haemophilus</text>
<rect x="925.00" y="339.30" width="29.80" height="29.80" fill="#58B9DB"/>
<text x="962.8" y="358.2" font-size="20.5" font-style="italic">Neisseria</text>
<rect x="925.00" y="371.00" width="29.80" height="29.80" fill="#C8DCF0"/>
<text x="962.8" y="391.8" font-size="20.5">Pseudomonadota others</text>
<rect x="924.50" y="446.60" width="29.80" height="29.80" fill="#AC4E23"/>
<text x="962.8" y="465.9" font-size="20.5" font-style="italic">Nanosynbacter</text>
<rect x="924.50" y="519.60" width="29.80" height="29.80" fill="#F4B94A"/>
<text x="962.8" y="539.6" font-size="20.5" font-style="italic">Treponema</text>
<rect x="922.70" y="595.10" width="29.80" height="29.80" fill="#4E51A6"/>
<text x="962.8" y="616.3" font-size="20.5" font-style="italic">Campylobacter</text>
<rect x="920.10" y="665.50" width="29.80" height="29.80" fill="#EBEBEB"/>
<text x="961.4" y="687.4" font-size="20.5" font-style="italic">Homo sapiens</text>
<rect x="650.00" y="665.50" width="29.80" height="29.80" fill="#BEBEBE"/>
<text x="689.5" y="687.4" font-size="23.5" font-weight="bold">Other phyla</text>
<text x="1280.5" y="39.0" font-size="53.5" font-weight="bold">b</text>
<rect x="1449.40" y="570.30" width="484.60" height="25.30" fill="#F5F5F5"/>
<rect x="1449.40" y="621.30" width="484.60" height="25.00" fill="#F5F5F5"/>
<rect x="1497.60" y="246.26" width="41.20" height="292.04" fill="#255E91"/>
<text x="1519.7" y="231.3" font-size="27" text-anchor="middle" font-weight="bold" fill="#2D6498">28</text>
<rect x="1566.80" y="423.57" width="41.20" height="114.73" fill="#255E91"/>
<text x="1588.9" y="408.6" font-size="27" text-anchor="middle" font-weight="bold" fill="#2D6498">11</text>
<rect x="1636.50" y="486.15" width="41.20" height="52.15" fill="#255E91"/>
<text x="1658.6" y="471.1" font-size="27" text-anchor="middle" font-weight="bold" fill="#2D6498">5</text>
<rect x="1705.70" y="496.58" width="41.20" height="41.72" fill="#255E91"/>
<text x="1727.8" y="481.6" font-size="27" text-anchor="middle" font-weight="bold" fill="#2D6498">4</text>
<rect x="1774.50" y="517.44" width="41.20" height="20.86" fill="#255E91"/>
<text x="1796.6" y="502.4" font-size="27" text-anchor="middle" font-weight="bold" fill="#2D6498">2</text>
<rect x="1844.20" y="527.87" width="41.20" height="10.43" fill="#255E91"/>
<text x="1866.3" y="512.9" font-size="27" text-anchor="middle" font-weight="bold" fill="#2D6498">1</text>
<line x1="1449.40" y1="202.00" x2="1449.40" y2="538.80" stroke="#222" stroke-width="1.3"/>
<line x1="1449.40" y1="538.30" x2="1934.00" y2="538.30" stroke="#222" stroke-width="1.3"/>
<line x1="1445.00" y1="538.30" x2="1449.40" y2="538.30" stroke="#222" stroke-width="1.2"/>
<text x="1444.8" y="543.7" font-size="27.5" text-anchor="end">0</text>
<line x1="1445.00" y1="434.00" x2="1449.40" y2="434.00" stroke="#222" stroke-width="1.2"/>
<text x="1444.8" y="439.4" font-size="27.5" text-anchor="end">10</text>
<line x1="1445.00" y1="329.70" x2="1449.40" y2="329.70" stroke="#222" stroke-width="1.2"/>
<text x="1444.8" y="335.1" font-size="27.5" text-anchor="end">20</text>
<line x1="1445.00" y1="225.40" x2="1449.40" y2="225.40" stroke="#222" stroke-width="1.2"/>
<text x="1444.8" y="230.8" font-size="27.5" text-anchor="end">30</text>
<text x="1388.0" y="367.5" font-size="42" text-anchor="middle" transform="rotate(-90 1388.0 367.5)">Intersection Size</text>
<line x1="1518.20" y1="557.40" x2="1518.20" y2="633.70" stroke="#3C3C3C" stroke-width="1.8"/>
<circle cx="1518.2" cy="557.4" r="6.2" fill="#3C3C3C"/>
<circle cx="1518.2" cy="582.7" r="6.2" fill="#3C3C3C"/>
<circle cx="1518.2" cy="608.4" r="6.2" fill="#3C3C3C"/>
<circle cx="1518.2" cy="633.7" r="6.2" fill="#3C3C3C"/>
<circle cx="1587.4" cy="557.4" r="6.2" fill="#E4E4E4"/>
<circle cx="1587.4" cy="582.7" r="6.2" fill="#E4E4E4"/>
<line x1="1587.40" y1="608.40" x2="1587.40" y2="633.70" stroke="#3C3C3C" stroke-width="1.8"/>
<circle cx="1587.4" cy="608.4" r="6.2" fill="#3C3C3C"/>
<circle cx="1587.4" cy="633.7" r="6.2" fill="#3C3C3C"/>
<circle cx="1657.1" cy="557.4" r="6.2" fill="#E4E4E4"/>
<line x1="1657.10" y1="582.70" x2="1657.10" y2="633.70" stroke="#3C3C3C" stroke-width="1.8"/>
<circle cx="1657.1" cy="582.7" r="6.2" fill="#3C3C3C"/>
<circle cx="1657.1" cy="608.4" r="6.2" fill="#3C3C3C"/>
<circle cx="1657.1" cy="633.7" r="6.2" fill="#3C3C3C"/>
<circle cx="1726.3" cy="557.4" r="6.2" fill="#E4E4E4"/>
<circle cx="1726.3" cy="582.7" r="6.2" fill="#E4E4E4"/>
<circle cx="1726.3" cy="608.4" r="6.2" fill="#E4E4E4"/>
<circle cx="1726.3" cy="633.7" r="6.2" fill="#3C3C3C"/>
<circle cx="1795.1" cy="557.4" r="6.2" fill="#E4E4E4"/>
<circle cx="1795.1" cy="582.7" r="6.2" fill="#E4E4E4"/>
<circle cx="1795.1" cy="633.7" r="6.2" fill="#E4E4E4"/>
<circle cx="1795.1" cy="608.4" r="6.2" fill="#3C3C3C"/>
<circle cx="1864.8" cy="557.4" r="6.2" fill="#E4E4E4"/>
<circle cx="1864.8" cy="608.4" r="6.2" fill="#E4E4E4"/>
<line x1="1864.80" y1="582.70" x2="1864.80" y2="633.70" stroke="#3C3C3C" stroke-width="1.8"/>
<circle cx="1864.8" cy="582.7" r="6.2" fill="#3C3C3C"/>
<circle cx="1864.8" cy="633.7" r="6.2" fill="#3C3C3C"/>
<text x="1397.8" y="562.5" font-size="28">BL</text>
<text x="1365.5" y="588.0" font-size="28">CT_Sup</text>
<text x="1365.5" y="620.0" font-size="28">GT_Sup</text>
<text x="1365.5" y="651.5" font-size="28">OSaMPle</text>
<rect x="1264.82" y="551.60" width="84.28" height="11.30" fill="#3FA79B"/>
<rect x="1246.76" y="577.00" width="102.34" height="11.30" fill="#3FA79B"/>
<rect x="1210.64" y="602.70" width="138.46" height="11.30" fill="#3FA79B"/>
<rect x="1201.61" y="628.00" width="147.49" height="11.30" fill="#3FA79B"/>
<line x1="1195.50" y1="646.60" x2="1355.30" y2="646.60" stroke="#444" stroke-width="1"/>
<line x1="1349.10" y1="646.60" x2="1349.10" y2="650.00" stroke="#444" stroke-width="1"/>
<text transform="translate(1351.6,660.7) rotate(-42)" x="0" y="8.3" font-size="23.5" text-anchor="middle" fill="#2a1818">0</text>
<line x1="1319.00" y1="646.60" x2="1319.00" y2="650.00" stroke="#444" stroke-width="1"/>
<text transform="translate(1314.5,666.0) rotate(-42)" x="0" y="8.3" font-size="23.5" text-anchor="middle" fill="#2a1818">10</text>
<line x1="1288.90" y1="646.60" x2="1288.90" y2="650.00" stroke="#444" stroke-width="1"/>
<text transform="translate(1284.4,666.0) rotate(-42)" x="0" y="8.3" font-size="23.5" text-anchor="middle" fill="#2a1818">20</text>
<line x1="1258.80" y1="646.60" x2="1258.80" y2="650.00" stroke="#444" stroke-width="1"/>
<text transform="translate(1254.3,666.0) rotate(-42)" x="0" y="8.3" font-size="23.5" text-anchor="middle" fill="#2a1818">30</text>
<line x1="1228.70" y1="646.60" x2="1228.70" y2="650.00" stroke="#444" stroke-width="1"/>
<text transform="translate(1224.2,666.0) rotate(-42)" x="0" y="8.3" font-size="23.5" text-anchor="middle" fill="#2a1818">40</text>
<line x1="1198.60" y1="646.60" x2="1198.60" y2="650.00" stroke="#444" stroke-width="1"/>
<text transform="translate(1194.1,666.0) rotate(-42)" x="0" y="8.3" font-size="23.5" text-anchor="middle" fill="#2a1818">50</text>
<text x="1274.0" y="719.8" font-size="42" text-anchor="middle">Set Size</text>
<defs><clipPath id="vg0"><circle cx="287.4" cy="1137.5" r="143.0"/></clipPath><clipPath id="vp0"><circle cx="312.4" cy="1104" r="127.6"/></clipPath><clipPath id="vg1"><circle cx="751.9" cy="1133.3" r="132.6"/></clipPath><clipPath id="vp1"><circle cx="785.4" cy="1120.2" r="143.7"/></clipPath><clipPath id="vg2"><circle cx="1253.3" cy="1123.3" r="149.2"/></clipPath><clipPath id="vp2"><circle cx="1257.5" cy="1123.3" r="145.6"/></clipPath><clipPath id="vg3"><circle cx="1725.3" cy="1130.3" r="135.6"/></clipPath><clipPath id="vp3"><circle cx="1729.9" cy="1114.2" r="144.5"/></clipPath></defs>
<circle cx="287.4" cy="1137.5" r="143.0" fill="#A8CF72"/>
<circle cx="312.4" cy="1104" r="127.6" fill="#9481AD"/>
<circle cx="305.8" cy="1137.5" r="136.7" fill="#6A9EC6"/>
<circle cx="312.4" cy="1104" r="127.6" fill="#A6AE96" clip-path="url(#vg0)"/>
<circle cx="305.8" cy="1137.5" r="136.7" fill="#98B8A6" clip-path="url(#vg0)"/>
<circle cx="305.8" cy="1137.5" r="136.7" fill="#8691BB" clip-path="url(#vp0)"/>
<g clip-path="url(#vg0)"><circle cx="305.8" cy="1137.5" r="136.7" fill="#9CA8A6" clip-path="url(#vp0)"/></g>
<text x="301.8" y="1113.2" font-size="36.5" text-anchor="middle">19</text>
<text x="307.5" y="1155.5" font-size="35" text-anchor="middle" font-weight="bold">(63.3%)</text>
<text x="353.0" y="1001.9" font-size="24.5" text-anchor="middle">2</text>
<text x="236.1" y="1018.9" font-size="24.5" text-anchor="middle">0</text>
<text x="431.9" y="1105.7" font-size="24.5" text-anchor="middle">0</text>
<text x="435.3" y="1165.0" font-size="24.5" text-anchor="middle">1</text>
<text x="157.7" y="1149.2" font-size="24.5" text-anchor="middle">3</text>
<text x="278.9" y="1255.1" font-size="24.5" text-anchor="middle">5</text>
<text x="308.5" y="932.0" font-size="42.8" text-anchor="middle">BL (Baseline)</text>
<circle cx="751.9" cy="1133.3" r="132.6" fill="#A8CF72"/>
<circle cx="785.4" cy="1120.2" r="143.7" fill="#9481AD"/>
<circle cx="788.1" cy="1133.9" r="143.5" fill="#6A9EC6"/>
<circle cx="785.4" cy="1120.2" r="143.7" fill="#A6AE96" clip-path="url(#vg1)"/>
<circle cx="788.1" cy="1133.9" r="143.5" fill="#98B8A6" clip-path="url(#vg1)"/>
<circle cx="788.1" cy="1133.9" r="143.5" fill="#8691BB" clip-path="url(#vp1)"/>
<g clip-path="url(#vg1)"><circle cx="788.1" cy="1133.9" r="143.5" fill="#9CA8A6" clip-path="url(#vp1)"/></g>
<text x="763.8" y="1113.2" font-size="36.5" text-anchor="middle">26</text>
<text x="765.9" y="1155.5" font-size="35" text-anchor="middle" font-weight="bold">(63.4%)</text>
<text x="762.7" y="988.1" font-size="24.5" text-anchor="middle">1</text>
<text x="680.1" y="1037.9" font-size="24.5" text-anchor="middle">2</text>
<text x="638.7" y="1160.8" font-size="24.5" text-anchor="middle">2</text>
<text x="908.9" y="1113.2" font-size="24.5" text-anchor="middle">7</text>
<text x="731.5" y="1260.4" font-size="24.5" text-anchor="middle">2</text>
<text x="811.4" y="1272.1" font-size="24.5" text-anchor="middle">1</text>
<text x="787.7" y="929.7" font-size="42.8" text-anchor="middle">CT_Sup</text>
<circle cx="1253.3" cy="1123.3" r="149.2" fill="#A8CF72"/>
<circle cx="1257.5" cy="1123.3" r="145.6" fill="#9481AD"/>
<circle cx="1264.9" cy="1123.3" r="147.9" fill="#6A9EC6"/>
<circle cx="1257.5" cy="1123.3" r="145.6" fill="#A08CB4" clip-path="url(#vg2)"/>
<circle cx="1264.9" cy="1123.3" r="147.9" fill="#98B8A6" clip-path="url(#vg2)"/>
<circle cx="1264.9" cy="1123.3" r="147.9" fill="#8691BB" clip-path="url(#vp2)"/>
<g clip-path="url(#vg2)"><circle cx="1264.9" cy="1123.3" r="147.9" fill="#9CA8A6" clip-path="url(#vp2)"/></g>
<text x="1251.8" y="1113.2" font-size="36.5" text-anchor="middle">67</text>
<text x="1260.7" y="1155.5" font-size="35" text-anchor="middle" font-weight="bold">(89.3%)</text>
<text x="1121.9" y="1094.1" font-size="24.5" text-anchor="middle">1</text>
<text x="1406.5" y="1102.6" font-size="24.5" text-anchor="middle">3</text>
<text x="1124.0" y="1202.2" font-size="24.5" text-anchor="middle">3</text>
<text x="1277.7" y="1271.0" font-size="24.5" text-anchor="middle">1</text>
<text x="1263.0" y="928.7" font-size="42.8" text-anchor="middle">OSaMPle</text>
<circle cx="1725.3" cy="1130.3" r="135.6" fill="#A8CF72"/>
<circle cx="1729.9" cy="1114.2" r="144.5" fill="#9481AD"/>
<circle cx="1742" cy="1130.7" r="144.5" fill="#6A9EC6"/>
<circle cx="1729.9" cy="1114.2" r="144.5" fill="#A6AE96" clip-path="url(#vg3)"/>
<circle cx="1742" cy="1130.7" r="144.5" fill="#98B8A6" clip-path="url(#vg3)"/>
<circle cx="1742" cy="1130.7" r="144.5" fill="#8691BB" clip-path="url(#vp3)"/>
<g clip-path="url(#vg3)"><circle cx="1742" cy="1130.7" r="144.5" fill="#9CA8A6" clip-path="url(#vp3)"/></g>
<text x="1743.3" y="1113.2" font-size="36.5" text-anchor="middle">59</text>
<text x="1754.5" y="1155.5" font-size="35" text-anchor="middle" font-weight="bold">(76.6%)</text>
<text x="1678.7" y="994.1" font-size="24.5" text-anchor="middle">5</text>
<text x="1841.4" y="1049.2" font-size="24.5" text-anchor="middle">5</text>
<text x="1835.5" y="1232.9" font-size="24.5" text-anchor="middle">5</text>
<text x="1594.3" y="1143.9" font-size="24.5" text-anchor="middle">1</text>
<text x="1617.2" y="1205.3" font-size="24.5" text-anchor="middle">1</text>
<text x="1673.4" y="1251.9" font-size="24.5" text-anchor="middle">1</text>
<text x="1737.3" y="928.7" font-size="42.8" text-anchor="middle">GT_Sup</text>
<text x="4.0" y="958.0" font-size="53.5" font-weight="bold">c</text>
<rect x="170.10" y="1313.60" width="277.80" height="277.20" fill="#fff"/>
<line x1="239.00" y1="1313.60" x2="239.00" y2="1590.80" stroke="#EDEDED" stroke-width="2"/>
<line x1="355.20" y1="1313.60" x2="355.20" y2="1590.80" stroke="#EDEDED" stroke-width="2"/>
<line x1="170.10" y1="1330.90" x2="447.90" y2="1330.90" stroke="#EDEDED" stroke-width="2"/>
<line x1="170.10" y1="1385.70" x2="447.90" y2="1385.70" stroke="#EDEDED" stroke-width="2"/>
<line x1="170.10" y1="1440.70" x2="447.90" y2="1440.70" stroke="#EDEDED" stroke-width="2"/>
<line x1="170.10" y1="1495.10" x2="447.90" y2="1495.10" stroke="#EDEDED" stroke-width="2"/>
<line x1="170.10" y1="1550.20" x2="447.90" y2="1550.20" stroke="#EDEDED" stroke-width="2"/>
<line x1="183.00" y1="1313.60" x2="183.00" y2="1590.80" stroke="#EBEBEB" stroke-width="4"/>
<line x1="294.30" y1="1313.60" x2="294.30" y2="1590.80" stroke="#EBEBEB" stroke-width="4"/>
<line x1="415.80" y1="1313.60" x2="415.80" y2="1590.80" stroke="#EBEBEB" stroke-width="4"/>
<line x1="170.10" y1="1359.20" x2="447.90" y2="1359.20" stroke="#EBEBEB" stroke-width="4"/>
<line x1="170.10" y1="1412.10" x2="447.90" y2="1412.10" stroke="#EBEBEB" stroke-width="4"/>
<line x1="170.10" y1="1469.20" x2="447.90" y2="1469.20" stroke="#EBEBEB" stroke-width="4"/>
<line x1="170.10" y1="1521.00" x2="447.90" y2="1521.00" stroke="#EBEBEB" stroke-width="4"/>
<line x1="170.10" y1="1578.40" x2="447.90" y2="1578.40" stroke="#EBEBEB" stroke-width="4"/>
<ellipse cx="182.8" cy="1325.9" rx="6.0" ry="5.05" fill="none" stroke="#558270" stroke-width="3.7"/>
<ellipse cx="253.1" cy="1375.1" rx="6.0" ry="5.05" fill="none" stroke="#558270" stroke-width="3.7"/>
<ellipse cx="294.3" cy="1425.1" rx="6.0" ry="5.05" fill="none" stroke="#558270" stroke-width="3.7"/>
<ellipse cx="345.8" cy="1461.6" rx="6.0" ry="5.05" fill="none" stroke="#558270" stroke-width="3.7"/>
<ellipse cx="323.4" cy="1501.6" rx="6.0" ry="5.05" fill="none" stroke="#558270" stroke-width="3.7"/>
<ellipse cx="364.3" cy="1521" rx="6.0" ry="5.05" fill="none" stroke="#558270" stroke-width="3.7"/>
<ellipse cx="393.8" cy="1521" rx="6.0" ry="5.05" fill="none" stroke="#558270" stroke-width="3.7"/>
<ellipse cx="425.8" cy="1521" rx="6.0" ry="5.05" fill="none" stroke="#558270" stroke-width="3.7"/>
<ellipse cx="380.2" cy="1554" rx="6.0" ry="5.05" fill="none" stroke="#558270" stroke-width="3.7"/>
<ellipse cx="435.5" cy="1554" rx="6.0" ry="5.05" fill="none" stroke="#558270" stroke-width="3.7"/>
<rect x="170.1" y="1313.6" width="277.8" height="277.2" fill="none" stroke="#333" stroke-width="2"/>
<rect x="162.60" y="1357.50" width="7.00" height="3.40" fill="#333"/>
<text x="160.4" y="1369.0" font-size="28" text-anchor="end">0.300</text>
<rect x="162.60" y="1410.40" width="7.00" height="3.40" fill="#333"/>
<text x="160.4" y="1421.9" font-size="28" text-anchor="end">0.100</text>
<rect x="162.60" y="1467.50" width="7.00" height="3.40" fill="#333"/>
<text x="160.4" y="1479.0" font-size="28" text-anchor="end">0.030</text>
<rect x="162.60" y="1519.30" width="7.00" height="3.40" fill="#333"/>
<text x="160.4" y="1530.8" font-size="28" text-anchor="end">0.010</text>
<rect x="162.60" y="1576.70" width="7.00" height="3.40" fill="#333"/>
<text x="160.4" y="1588.2" font-size="28" text-anchor="end">0.003</text>
<rect x="181.30" y="1591.30" width="3.40" height="6.50" fill="#333"/>
<text x="183.9" y="1623.1" font-size="27.5" text-anchor="middle">1</text>
<rect x="292.60" y="1591.30" width="3.40" height="6.50" fill="#333"/>
<text x="288.4" y="1623.1" font-size="27.5" text-anchor="middle">3</text>
<rect x="414.10" y="1591.30" width="3.40" height="6.50" fill="#333"/>
<text x="410.0" y="1623.1" font-size="27.5" text-anchor="middle">10</text>
<text x="258.4" y="1651.1" font-size="35.4">Function</text>
<text x="245.0" y="1638.4" font-size="27.5" style="font-family:DejaVu Serif,Liberation Serif,serif">κ</text>
<text x="70.3" y="1527.4" font-size="36" font-style="italic" transform="rotate(-90 70.3 1527.4)">P</text>
<text x="70.6" y="1504.4" font-size="38" transform="rotate(-90 70.6 1504.4)">(</text>
<text x="66.6" y="1485.3" font-size="24" transform="rotate(-90 66.6 1485.3)" style="font-family:DejaVu Serif,Liberation Serif,serif">κ</text>
<text x="77.2" y="1476.8" font-size="29.5" transform="rotate(-90 77.2 1476.8)" textLength="107.4" lengthAdjust="spacingAndGlyphs">Function</text>
<text x="70.6" y="1371.1" font-size="38" transform="rotate(-90 70.6 1371.1)">)</text>
<rect x="647.70" y="1312.40" width="276.70" height="277.80" fill="#fff"/>
<line x1="714.50" y1="1312.40" x2="714.50" y2="1590.20" stroke="#EDEDED" stroke-width="2"/>
<line x1="827.30" y1="1312.40" x2="827.30" y2="1590.20" stroke="#EDEDED" stroke-width="2"/>
<line x1="647.70" y1="1330.30" x2="924.40" y2="1330.30" stroke="#EDEDED" stroke-width="2"/>
<line x1="647.70" y1="1385.10" x2="924.40" y2="1385.10" stroke="#EDEDED" stroke-width="2"/>
<line x1="647.70" y1="1440.10" x2="924.40" y2="1440.10" stroke="#EDEDED" stroke-width="2"/>
<line x1="647.70" y1="1494.50" x2="924.40" y2="1494.50" stroke="#EDEDED" stroke-width="2"/>
<line x1="647.70" y1="1549.60" x2="924.40" y2="1549.60" stroke="#EDEDED" stroke-width="2"/>
<line x1="660.10" y1="1312.40" x2="660.10" y2="1590.20" stroke="#EBEBEB" stroke-width="4"/>
<line x1="767.80" y1="1312.40" x2="767.80" y2="1590.20" stroke="#EBEBEB" stroke-width="4"/>
<line x1="887.00" y1="1312.40" x2="887.00" y2="1590.20" stroke="#EBEBEB" stroke-width="4"/>
<line x1="647.70" y1="1359.70" x2="924.40" y2="1359.70" stroke="#EBEBEB" stroke-width="4"/>
<line x1="647.70" y1="1411.50" x2="924.40" y2="1411.50" stroke="#EBEBEB" stroke-width="4"/>
<line x1="647.70" y1="1468.30" x2="924.40" y2="1468.30" stroke="#EBEBEB" stroke-width="4"/>
<line x1="647.70" y1="1520.40" x2="924.40" y2="1520.40" stroke="#EBEBEB" stroke-width="4"/>
<line x1="647.70" y1="1576.90" x2="924.40" y2="1576.90" stroke="#EBEBEB" stroke-width="4"/>
<ellipse cx="660.1" cy="1325.3" rx="6.0" ry="5.05" fill="none" stroke="#558270" stroke-width="3.7"/>
<ellipse cx="728.1" cy="1381.2" rx="6.0" ry="5.05" fill="none" stroke="#558270" stroke-width="3.7"/>
<ellipse cx="767.8" cy="1441.6" rx="6.0" ry="5.05" fill="none" stroke="#558270" stroke-width="3.7"/>
<ellipse cx="795.8" cy="1445.7" rx="6.0" ry="5.05" fill="none" stroke="#558270" stroke-width="3.7"/>
<ellipse cx="817.8" cy="1478.6" rx="6.0" ry="5.05" fill="none" stroke="#558270" stroke-width="3.7"/>
<ellipse cx="850.8" cy="1489.2" rx="6.0" ry="5.05" fill="none" stroke="#558270" stroke-width="3.7"/>
<ellipse cx="895.2" cy="1502.5" rx="6.0" ry="5.05" fill="none" stroke="#558270" stroke-width="3.7"/>
<ellipse cx="835.5" cy="1522.2" rx="6.0" ry="5.05" fill="none" stroke="#558270" stroke-width="3.7"/>
<ellipse cx="875.5" cy="1522.2" rx="6.0" ry="5.05" fill="none" stroke="#558270" stroke-width="3.7"/>
<ellipse cx="911.7" cy="1554.9" rx="6.0" ry="5.05" fill="none" stroke="#558270" stroke-width="3.7"/>
<rect x="647.7" y="1312.4" width="276.7" height="277.8" fill="none" stroke="#333" stroke-width="2"/>
<rect x="640.20" y="1358.00" width="7.00" height="3.40" fill="#333"/>
<text x="637.4" y="1369.5" font-size="28" text-anchor="end">0.300</text>
<rect x="640.20" y="1409.80" width="7.00" height="3.40" fill="#333"/>
<text x="637.4" y="1421.3" font-size="28" text-anchor="end">0.100</text>
<rect x="640.20" y="1466.60" width="7.00" height="3.40" fill="#333"/>
<text x="637.4" y="1478.1" font-size="28" text-anchor="end">0.030</text>
<rect x="640.20" y="1518.70" width="7.00" height="3.40" fill="#333"/>
<text x="637.4" y="1530.2" font-size="28" text-anchor="end">0.010</text>
<rect x="640.20" y="1575.20" width="7.00" height="3.40" fill="#333"/>
<text x="637.4" y="1586.7" font-size="28" text-anchor="end">0.003</text>
<rect x="658.40" y="1590.70" width="3.40" height="6.50" fill="#333"/>
<text x="660.1" y="1621.0" font-size="27.5" text-anchor="middle">1</text>
<rect x="766.10" y="1590.70" width="3.40" height="6.50" fill="#333"/>
<text x="764.0" y="1621.0" font-size="27.5" text-anchor="middle">3</text>
<rect x="885.30" y="1590.70" width="3.40" height="6.50" fill="#333"/>
<text x="885.2" y="1621.0" font-size="27.5" text-anchor="middle">10</text>
<text x="735.2" y="1649.6" font-size="35.4">Function</text>
<text x="721.8" y="1636.9" font-size="27.5" style="font-family:DejaVu Serif,Liberation Serif,serif">κ</text>
<text x="544.0" y="1527.4" font-size="36" font-style="italic" transform="rotate(-90 544.0 1527.4)">P</text>
<text x="544.3" y="1504.4" font-size="38" transform="rotate(-90 544.3 1504.4)">(</text>
<text x="540.3" y="1485.3" font-size="24" transform="rotate(-90 540.3 1485.3)" style="font-family:DejaVu Serif,Liberation Serif,serif">κ</text>
<text x="550.9" y="1476.8" font-size="29.5" transform="rotate(-90 550.9 1476.8)" textLength="107.4" lengthAdjust="spacingAndGlyphs">Function</text>
<text x="544.3" y="1371.1" font-size="38" transform="rotate(-90 544.3 1371.1)">)</text>
<rect x="1127.50" y="1315.00" width="277.50" height="277.20" fill="#fff"/>
<line x1="1191.00" y1="1315.00" x2="1191.00" y2="1592.20" stroke="#EDEDED" stroke-width="2"/>
<line x1="1298.40" y1="1315.00" x2="1298.40" y2="1592.20" stroke="#EDEDED" stroke-width="2"/>
<line x1="1127.50" y1="1330.30" x2="1405.00" y2="1330.30" stroke="#EDEDED" stroke-width="2"/>
<line x1="1127.50" y1="1385.60" x2="1405.00" y2="1385.60" stroke="#EDEDED" stroke-width="2"/>
<line x1="1127.50" y1="1441.00" x2="1405.00" y2="1441.00" stroke="#EDEDED" stroke-width="2"/>
<line x1="1127.50" y1="1496.00" x2="1405.00" y2="1496.00" stroke="#EDEDED" stroke-width="2"/>
<line x1="1127.50" y1="1551.30" x2="1405.00" y2="1551.30" stroke="#EDEDED" stroke-width="2"/>
<line x1="1139.50" y1="1315.00" x2="1139.50" y2="1592.20" stroke="#EBEBEB" stroke-width="4"/>
<line x1="1243.10" y1="1315.00" x2="1243.10" y2="1592.20" stroke="#EBEBEB" stroke-width="4"/>
<line x1="1355.20" y1="1315.00" x2="1355.20" y2="1592.20" stroke="#EBEBEB" stroke-width="4"/>
<line x1="1127.50" y1="1359.70" x2="1405.00" y2="1359.70" stroke="#EBEBEB" stroke-width="4"/>
<line x1="1127.50" y1="1412.10" x2="1405.00" y2="1412.10" stroke="#EBEBEB" stroke-width="4"/>
<line x1="1127.50" y1="1468.90" x2="1405.00" y2="1468.90" stroke="#EBEBEB" stroke-width="4"/>
<line x1="1127.50" y1="1522.50" x2="1405.00" y2="1522.50" stroke="#EBEBEB" stroke-width="4"/>
<line x1="1127.50" y1="1579.90" x2="1405.00" y2="1579.90" stroke="#EBEBEB" stroke-width="4"/>
<ellipse cx="1139.5" cy="1327.4" rx="6.0" ry="5.05" fill="none" stroke="#558270" stroke-width="3.7"/>
<ellipse cx="1204.3" cy="1381.2" rx="6.0" ry="5.05" fill="none" stroke="#558270" stroke-width="3.7"/>
<ellipse cx="1241.9" cy="1415.4" rx="6.0" ry="5.05" fill="none" stroke="#558270" stroke-width="3.7"/>
<ellipse cx="1269" cy="1453.3" rx="6.0" ry="5.05" fill="none" stroke="#558270" stroke-width="3.7"/>
<ellipse cx="1289.6" cy="1480.1" rx="6.0" ry="5.05" fill="none" stroke="#558270" stroke-width="3.7"/>
<ellipse cx="1306.7" cy="1502.5" rx="6.0" ry="5.05" fill="none" stroke="#558270" stroke-width="3.7"/>
<ellipse cx="1321.4" cy="1493.6" rx="6.0" ry="5.05" fill="none" stroke="#558270" stroke-width="3.7"/>
<ellipse cx="1344.9" cy="1546.6" rx="6.0" ry="5.05" fill="none" stroke="#558270" stroke-width="3.7"/>
<ellipse cx="1363.2" cy="1546.6" rx="6.0" ry="5.05" fill="none" stroke="#558270" stroke-width="3.7"/>
<ellipse cx="1333.7" cy="1579.9" rx="6.0" ry="5.05" fill="none" stroke="#558270" stroke-width="3.7"/>
<ellipse cx="1354.3" cy="1579.9" rx="6.0" ry="5.05" fill="none" stroke="#558270" stroke-width="3.7"/>
<ellipse cx="1371.4" cy="1579.9" rx="6.0" ry="5.05" fill="none" stroke="#558270" stroke-width="3.7"/>
<ellipse cx="1385.8" cy="1579.9" rx="6.0" ry="5.05" fill="none" stroke="#558270" stroke-width="3.7"/>
<ellipse cx="1392.6" cy="1579.9" rx="6.0" ry="5.05" fill="none" stroke="#558270" stroke-width="3.7"/>
<rect x="1127.5" y="1315" width="277.5" height="277.2" fill="none" stroke="#333" stroke-width="2"/>
<rect x="1120.00" y="1358.00" width="7.00" height="3.40" fill="#333"/>
<text x="1116.9" y="1369.5" font-size="28" text-anchor="end">0.300</text>
<rect x="1120.00" y="1410.40" width="7.00" height="3.40" fill="#333"/>
<text x="1116.9" y="1421.9" font-size="28" text-anchor="end">0.100</text>
<rect x="1120.00" y="1467.20" width="7.00" height="3.40" fill="#333"/>
<text x="1116.9" y="1478.7" font-size="28" text-anchor="end">0.030</text>
<rect x="1120.00" y="1520.80" width="7.00" height="3.40" fill="#333"/>
<text x="1116.9" y="1532.3" font-size="28" text-anchor="end">0.010</text>
<rect x="1120.00" y="1578.20" width="7.00" height="3.40" fill="#333"/>
<text x="1116.9" y="1589.7" font-size="28" text-anchor="end">0.003</text>
<rect x="1137.80" y="1592.70" width="3.40" height="6.50" fill="#333"/>
<text x="1138.6" y="1622.5" font-size="27.5" text-anchor="middle">1</text>
<rect x="1241.40" y="1592.70" width="3.40" height="6.50" fill="#333"/>
<text x="1242.5" y="1622.5" font-size="27.5" text-anchor="middle">3</text>
<rect x="1353.50" y="1592.70" width="3.40" height="6.50" fill="#333"/>
<text x="1353.5" y="1622.5" font-size="27.5" text-anchor="middle">10</text>
<text x="1214.1" y="1652.9" font-size="35.4">Function</text>
<text x="1200.7" y="1640.2" font-size="27.5" style="font-family:DejaVu Serif,Liberation Serif,serif">κ</text>
<text x="1032.2" y="1528.3" font-size="36" font-style="italic" transform="rotate(-90 1032.2 1528.3)">P</text>
<text x="1032.5" y="1505.3" font-size="38" transform="rotate(-90 1032.5 1505.3)">(</text>
<text x="1028.5" y="1486.2" font-size="24" transform="rotate(-90 1028.5 1486.2)" style="font-family:DejaVu Serif,Liberation Serif,serif">κ</text>
<text x="1039.1" y="1477.7" font-size="29.5" transform="rotate(-90 1039.1 1477.7)" textLength="98.0" lengthAdjust="spacingAndGlyphs">Function</text>
<text x="1032.5" y="1381.4" font-size="38" transform="rotate(-90 1032.5 1381.4)">)</text>
<text x="1204.3" y="1547.5" font-size="27.6">fat tail</text>
<line x1="1277.80" y1="1545.40" x2="1327.30" y2="1569.00" stroke="#2a1818" stroke-width="1.2"/>
<line x1="1327.30" y1="1569.00" x2="1321.67" y2="1561.98" stroke="#2a1818" stroke-width="1.2"/>
<line x1="1327.30" y1="1569.00" x2="1318.30" y2="1569.05" stroke="#2a1818" stroke-width="1.2"/>
<rect x="1605.90" y="1312.10" width="277.50" height="284.00" fill="#fff"/>
<line x1="1668.50" y1="1312.10" x2="1668.50" y2="1596.10" stroke="#EDEDED" stroke-width="1.6"/>
<line x1="1773.00" y1="1312.10" x2="1773.00" y2="1596.10" stroke="#EDEDED" stroke-width="1.6"/>
<line x1="1877.80" y1="1312.10" x2="1877.80" y2="1596.10" stroke="#EDEDED" stroke-width="1.6"/>
<line x1="1605.90" y1="1325.90" x2="1883.40" y2="1325.90" stroke="#EDEDED" stroke-width="1.6"/>
<line x1="1605.90" y1="1382.70" x2="1883.40" y2="1382.70" stroke="#EDEDED" stroke-width="1.6"/>
<line x1="1605.90" y1="1439.20" x2="1883.40" y2="1439.20" stroke="#EDEDED" stroke-width="1.6"/>
<line x1="1605.90" y1="1496.00" x2="1883.40" y2="1496.00" stroke="#EDEDED" stroke-width="1.6"/>
<line x1="1605.90" y1="1551.90" x2="1883.40" y2="1551.90" stroke="#EDEDED" stroke-width="1.6"/>
<line x1="1617.90" y1="1312.10" x2="1617.90" y2="1596.10" stroke="#EBEBEB" stroke-width="2.7"/>
<line x1="1718.00" y1="1312.10" x2="1718.00" y2="1596.10" stroke="#EBEBEB" stroke-width="2.7"/>
<line x1="1827.80" y1="1312.10" x2="1827.80" y2="1596.10" stroke="#EBEBEB" stroke-width="2.7"/>
<line x1="1605.90" y1="1355.30" x2="1883.40" y2="1355.30" stroke="#EBEBEB" stroke-width="2.7"/>
<line x1="1605.90" y1="1410.10" x2="1883.40" y2="1410.10" stroke="#EBEBEB" stroke-width="2.7"/>
<line x1="1605.90" y1="1468.90" x2="1883.40" y2="1468.90" stroke="#EBEBEB" stroke-width="2.7"/>
<line x1="1605.90" y1="1523.40" x2="1883.40" y2="1523.40" stroke="#EBEBEB" stroke-width="2.7"/>
<line x1="1605.90" y1="1582.20" x2="1883.40" y2="1582.20" stroke="#EBEBEB" stroke-width="2.7"/>
<ellipse cx="1617.9" cy="1324.7" rx="6.45" ry="5.55" fill="none" stroke="#558270" stroke-width="2.5"/>
<ellipse cx="1681.2" cy="1375.6" rx="6.45" ry="5.55" fill="none" stroke="#558270" stroke-width="2.5"/>
<ellipse cx="1718" cy="1412.4" rx="6.45" ry="5.55" fill="none" stroke="#558270" stroke-width="2.5"/>
<ellipse cx="1744.5" cy="1443.6" rx="6.45" ry="5.55" fill="none" stroke="#558270" stroke-width="2.5"/>
<ellipse cx="1764.5" cy="1469.5" rx="6.45" ry="5.55" fill="none" stroke="#558270" stroke-width="2.5"/>
<ellipse cx="1795.4" cy="1480.7" rx="6.45" ry="5.55" fill="none" stroke="#558270" stroke-width="2.5"/>
<ellipse cx="1807.2" cy="1529" rx="6.45" ry="5.55" fill="none" stroke="#558270" stroke-width="2.5"/>
<ellipse cx="1818.6" cy="1529" rx="6.45" ry="5.55" fill="none" stroke="#558270" stroke-width="2.5"/>
<ellipse cx="1781.3" cy="1549" rx="6.45" ry="5.55" fill="none" stroke="#558270" stroke-width="2.5"/>
<ellipse cx="1827.8" cy="1549" rx="6.45" ry="5.55" fill="none" stroke="#558270" stroke-width="2.5"/>
<ellipse cx="1836.3" cy="1583.1" rx="6.45" ry="5.55" fill="none" stroke="#558270" stroke-width="2.5"/>
<ellipse cx="1844.8" cy="1583.1" rx="6.45" ry="5.55" fill="none" stroke="#558270" stroke-width="2.5"/>
<ellipse cx="1858.1" cy="1583.1" rx="6.45" ry="5.55" fill="none" stroke="#558270" stroke-width="2.5"/>
<ellipse cx="1870.7" cy="1583.1" rx="6.45" ry="5.55" fill="none" stroke="#558270" stroke-width="2.5"/>
<rect x="1605.9" y="1312.1" width="277.5" height="284.0" fill="none" stroke="#333" stroke-width="2.7"/>
<rect x="1598.40" y="1354.10" width="7.00" height="2.40" fill="#333"/>
<text x="1594.4" y="1365.1" font-size="28" text-anchor="end">0.300</text>
<rect x="1598.40" y="1408.90" width="7.00" height="2.40" fill="#333"/>
<text x="1594.4" y="1419.9" font-size="28" text-anchor="end">0.100</text>
<rect x="1598.40" y="1467.70" width="7.00" height="2.40" fill="#333"/>
<text x="1594.4" y="1478.7" font-size="28" text-anchor="end">0.030</text>
<rect x="1598.40" y="1522.20" width="7.00" height="2.40" fill="#333"/>
<text x="1594.4" y="1533.2" font-size="28" text-anchor="end">0.010</text>
<rect x="1598.40" y="1581.00" width="7.00" height="2.40" fill="#333"/>
<text x="1594.4" y="1592.0" font-size="28" text-anchor="end">0.003</text>
<rect x="1616.70" y="1596.60" width="2.40" height="6.50" fill="#333"/>
<text x="1617.9" y="1624.8" font-size="27.5" text-anchor="middle">1</text>
<rect x="1716.80" y="1596.60" width="2.40" height="6.50" fill="#333"/>
<text x="1717.1" y="1624.8" font-size="27.5" text-anchor="middle">3</text>
<rect x="1826.60" y="1596.60" width="2.40" height="6.50" fill="#333"/>
<text x="1827.5" y="1624.8" font-size="27.5" text-anchor="middle">10</text>
<text x="1687.2" y="1656.4" font-size="35.4">Function</text>
<text x="1673.8" y="1643.7" font-size="27.5" style="font-family:DejaVu Serif,Liberation Serif,serif">κ</text>
<text x="1505.8" y="1531.1" font-size="36" font-style="italic" transform="rotate(-90 1505.8 1531.1)">P</text>
<text x="1506.1" y="1508.1" font-size="38" transform="rotate(-90 1506.1 1508.1)">(</text>
<text x="1502.1" y="1489.0" font-size="24" transform="rotate(-90 1502.1 1489.0)" style="font-family:DejaVu Serif,Liberation Serif,serif">κ</text>
<text x="1512.7" y="1480.5" font-size="29.5" transform="rotate(-90 1512.7 1480.5)" textLength="98.2" lengthAdjust="spacingAndGlyphs">Function</text>
<text x="1506.1" y="1384.0" font-size="38" transform="rotate(-90 1506.1 1384.0)">)</text>
<text x="1695.9" y="1560.7" font-size="27.6">fat tail</text>
<line x1="1769.50" y1="1559.30" x2="1820.10" y2="1582.80" stroke="#2a1818" stroke-width="1.2"/>
<line x1="1820.10" y1="1582.80" x2="1814.40" y2="1575.84" stroke="#2a1818" stroke-width="1.2"/>
<line x1="1820.10" y1="1582.80" x2="1811.10" y2="1582.94" stroke="#2a1818" stroke-width="1.2"/>
<text x="4.0" y="1312.0" font-size="53.5" font-weight="bold">d</text>
<g fill="none" stroke-opacity="0.5">
<path d="M78.4,1766.2C307.9,1766.2 307.9,1766.6 537.5,1766.6" stroke="#E8843A" stroke-width="46.00"/>
<path d="M78.4,1803.5C307.9,1803.5 307.9,1895.5 537.5,1895.5" stroke="#E8843A" stroke-width="30.00"/>
<path d="M78.4,1912.6C307.9,1912.6 307.9,1803.1 537.5,1803.1" stroke="#8E6BA8" stroke-width="27.00"/>
<path d="M78.4,1978.4C307.9,1978.4 307.9,1826.1 537.5,1826.1" stroke="#E8959A" stroke-width="19.00"/>
<path d="M78.4,1826.5C307.9,1826.5 307.9,1951.0 537.5,1951.0" stroke="#E8843A" stroke-width="17.00"/>
<path d="M78.4,1841.7C307.9,1841.7 307.9,1983.2 537.5,1983.2" stroke="#E8843A" stroke-width="14.00"/>
<path d="M78.4,2044.9C307.9,2044.9 307.9,1842.6 537.5,1842.6" stroke="#3F75AC" stroke-width="14.00"/>
<path d="M78.4,2010.2C307.9,2010.2 307.9,2171.3 537.5,2171.3" stroke="#E8959A" stroke-width="12.72"/>
<path d="M78.4,1854.5C307.9,1854.5 307.9,2034.9 537.5,2034.9" stroke="#E8843A" stroke-width="12.00"/>
<path d="M78.4,2064.3C307.9,2064.3 307.9,2004.0 537.5,2004.0" stroke="#3F75AC" stroke-width="11.50"/>
<path d="M78.4,2078.8C307.9,2078.8 307.9,2114.7 537.5,2114.7" stroke="#3F75AC" stroke-width="10.00"/>
<path d="M78.4,2126.0C307.9,2126.0 307.9,2054.7 537.5,2054.7" stroke="#A5CE8E" stroke-width="9.60"/>
<path d="M78.4,1939.2C307.9,1939.2 307.9,2080.6 537.5,2080.6" stroke="#8E6BA8" stroke-width="8.00"/>
<path d="M78.4,2107.2C307.9,2107.2 307.9,1853.6 537.5,1853.6" stroke="#A5CE8E" stroke-width="8.00"/>
<path d="M78.4,2055.2C307.9,2055.2 307.9,1923.0 537.5,1923.0" stroke="#3F75AC" stroke-width="7.00"/>
<path d="M78.4,2118.8C307.9,2118.8 307.9,2012.8 537.5,2012.8" stroke="#A5CE8E" stroke-width="6.20"/>
<path d="M78.4,1990.0C307.9,1990.0 307.9,1916.5 537.5,1916.5" stroke="#E8959A" stroke-width="6.00"/>
<path d="M78.4,2144.4C307.9,2144.4 307.9,2262.3 537.5,2262.3" stroke="#A5CE8E" stroke-width="5.47"/>
<path d="M78.4,2194.4C307.9,2194.4 307.9,1864.8 537.5,1864.8" stroke="#B0908B" stroke-width="5.30"/>
<path d="M78.4,1866.7C307.9,1866.7 307.9,2104.5 537.5,2104.5" stroke="#E8843A" stroke-width="5.00"/>
<path d="M78.4,1949.0C307.9,1949.0 307.9,2197.9 537.5,2197.9" stroke="#8E6BA8" stroke-width="4.93"/>
<path d="M78.4,2173.7C307.9,2173.7 307.9,1859.8 537.5,1859.8" stroke="#E87B6B" stroke-width="4.50"/>
<path d="M78.4,1862.3C307.9,1862.3 307.9,2074.6 537.5,2074.6" stroke="#E8843A" stroke-width="4.00"/>
<path d="M78.4,1930.5C307.9,1930.5 307.9,1992.2 537.5,1992.2" stroke="#8E6BA8" stroke-width="4.00"/>
<path d="M78.4,1995.0C307.9,1995.0 307.9,1996.2 537.5,1996.2" stroke="#E8959A" stroke-width="4.00"/>
<path d="M78.4,2112.5C307.9,2112.5 307.9,1928.3 537.5,1928.3" stroke="#A5CE8E" stroke-width="3.70"/>
<path d="M78.4,1870.7C307.9,1870.7 307.9,2137.5 537.5,2137.5" stroke="#E8843A" stroke-width="3.02"/>
<path d="M78.4,1927.1C307.9,1927.1 307.9,1912.0 537.5,1912.0" stroke="#8E6BA8" stroke-width="3.00"/>
<path d="M78.4,1933.9C307.9,1933.9 307.9,2042.4 537.5,2042.4" stroke="#8E6BA8" stroke-width="3.00"/>
<path d="M78.4,1998.2C307.9,1998.2 307.9,2045.4 537.5,2045.4" stroke="#E8959A" stroke-width="3.00"/>
<path d="M78.4,2071.3C307.9,2071.3 307.9,2048.4 537.5,2048.4" stroke="#3F75AC" stroke-width="3.00"/>
<path d="M78.4,1880.5C307.9,1880.5 307.9,2298.2 537.5,2298.2" stroke="#E8843A" stroke-width="2.91"/>
<path d="M78.4,2003.0C307.9,2003.0 307.9,2142.7 537.5,2142.7" stroke="#E8959A" stroke-width="2.67"/>
<path d="M78.4,2138.3C307.9,2138.3 307.9,2204.1 537.5,2204.1" stroke="#A5CE8E" stroke-width="2.47"/>
<path d="M78.4,2086.6C307.9,2086.6 307.9,2242.9 537.5,2242.9" stroke="#3F75AC" stroke-width="2.43"/>
<path d="M78.4,1873.3C307.9,1873.3 307.9,2163.2 537.5,2163.2" stroke="#E8843A" stroke-width="2.35"/>
<path d="M78.4,1944.9C307.9,1944.9 307.9,2140.2 537.5,2140.2" stroke="#8E6BA8" stroke-width="2.35"/>
<path d="M78.4,2135.0C307.9,2135.0 307.9,2145.4 537.5,2145.4" stroke="#A5CE8E" stroke-width="2.32"/>
<path d="M78.4,2132.9C307.9,2132.9 307.9,2120.7 537.5,2120.7" stroke="#A5CE8E" stroke-width="2.13"/>
<path d="M78.4,2152.6C307.9,2152.6 307.9,2343.5 537.5,2343.5" stroke="#A5CE8E" stroke-width="2.11"/>
<path d="M78.4,2018.8C307.9,2018.8 307.9,2222.6 537.5,2222.6" stroke="#E8959A" stroke-width="2.10"/>
<path d="M78.4,2022.8C307.9,2022.8 307.9,2280.6 537.5,2280.6" stroke="#E8959A" stroke-width="2.09"/>
<path d="M78.4,2140.3C307.9,2140.3 307.9,2225.0 537.5,2225.0" stroke="#A5CE8E" stroke-width="2.05"/>
<path d="M78.4,1875.5C307.9,1875.5 307.9,2194.4 537.5,2194.4" stroke="#E8843A" stroke-width="2.03"/>
<path d="M78.4,2115.1C307.9,2115.1 307.9,1961.0 537.5,1961.0" stroke="#A5CE8E" stroke-width="1.93"/>
<path d="M78.4,2000.9C307.9,2000.9 307.9,2108.7 537.5,2108.7" stroke="#E8959A" stroke-width="1.92"/>
<path d="M78.4,2016.9C307.9,2016.9 307.9,2201.3 537.5,2201.3" stroke="#E8959A" stroke-width="1.90"/>
<path d="M78.4,2020.6C307.9,2020.6 307.9,2240.7 537.5,2240.7" stroke="#E8959A" stroke-width="1.87"/>
<path d="M78.4,2150.8C307.9,2150.8 307.9,2329.1 537.5,2329.1" stroke="#A5CE8E" stroke-width="1.84"/>
<path d="M78.4,2149.1C307.9,2149.1 307.9,2314.6 537.5,2314.6" stroke="#A5CE8E" stroke-width="1.83"/>
<path d="M78.4,2198.5C307.9,2198.5 307.9,2147.9 537.5,2147.9" stroke="#B0908B" stroke-width="1.66"/>
<path d="M78.4,2131.2C307.9,2131.2 307.9,2087.1 537.5,2087.1" stroke="#A5CE8E" stroke-width="1.65"/>
<path d="M78.4,2147.6C307.9,2147.6 307.9,2282.4 537.5,2282.4" stroke="#A5CE8E" stroke-width="1.53"/>
<path d="M78.4,1883.7C307.9,1883.7 307.9,2370.1 537.5,2370.1" stroke="#E8843A" stroke-width="1.43"/>
<path d="M78.4,2177.7C307.9,2177.7 307.9,2206.0 537.5,2206.0" stroke="#E87B6B" stroke-width="1.42"/>
<path d="M78.4,2089.5C307.9,2089.5 307.9,2424.1 537.5,2424.1" stroke="#3F75AC" stroke-width="1.40"/>
<path d="M78.4,1955.0C307.9,1955.0 307.9,2437.5 537.5,2437.5" stroke="#8E6BA8" stroke-width="1.40"/>
<path d="M78.4,2157.0C307.9,2157.0 307.9,2450.5 537.5,2450.5" stroke="#A5CE8E" stroke-width="1.40"/>
<path d="M78.4,1952.6C307.9,1952.6 307.9,2278.9 537.5,2278.9" stroke="#8E6BA8" stroke-width="1.28"/>
<path d="M78.4,1877.0C307.9,1877.0 307.9,2220.8 537.5,2220.8" stroke="#E8843A" stroke-width="1.25"/>
<path d="M78.4,1878.0C307.9,1878.0 307.9,2239.0 537.5,2239.0" stroke="#E8843A" stroke-width="1.25"/>
<path d="M78.4,1878.6C307.9,1878.6 307.9,2258.7 537.5,2258.7" stroke="#E8843A" stroke-width="1.25"/>
<path d="M78.4,1878.9C307.9,1878.9 307.9,2278.1 537.5,2278.1" stroke="#E8843A" stroke-width="1.25"/>
<path d="M78.4,1882.1C307.9,1882.1 307.9,2327.9 537.5,2327.9" stroke="#E8843A" stroke-width="1.25"/>
<path d="M78.4,1882.3C307.9,1882.3 307.9,2342.0 537.5,2342.0" stroke="#E8843A" stroke-width="1.25"/>
<path d="M78.4,1882.7C307.9,1882.7 307.9,2355.9 537.5,2355.9" stroke="#E8843A" stroke-width="1.25"/>
<path d="M78.4,1884.6C307.9,1884.6 307.9,2383.1 537.5,2383.1" stroke="#E8843A" stroke-width="1.25"/>
<path d="M78.4,1885.2C307.9,1885.2 307.9,2410.7 537.5,2410.7" stroke="#E8843A" stroke-width="1.25"/>
<path d="M78.4,1885.9C307.9,1885.9 307.9,2477.0 537.5,2477.0" stroke="#E8843A" stroke-width="1.25"/>
<path d="M78.4,1928.6C307.9,1928.6 307.9,1959.5 537.5,1959.5" stroke="#8E6BA8" stroke-width="1.25"/>
<path d="M78.4,1943.4C307.9,1943.4 307.9,2107.4 537.5,2107.4" stroke="#8E6BA8" stroke-width="1.25"/>
<path d="M78.4,1946.3C307.9,1946.3 307.9,2164.6 537.5,2164.6" stroke="#8E6BA8" stroke-width="1.25"/>
<path d="M78.4,1951.5C307.9,1951.5 307.9,2221.4 537.5,2221.4" stroke="#8E6BA8" stroke-width="1.25"/>
<path d="M78.4,1951.7C307.9,1951.7 307.9,2239.6 537.5,2239.6" stroke="#8E6BA8" stroke-width="1.25"/>
<path d="M78.4,1951.9C307.9,1951.9 307.9,2259.0 537.5,2259.0" stroke="#8E6BA8" stroke-width="1.25"/>
<path d="M78.4,1953.4C307.9,1953.4 307.9,2342.3 537.5,2342.3" stroke="#8E6BA8" stroke-width="1.25"/>
<path d="M78.4,1953.7C307.9,1953.7 307.9,2370.9 537.5,2370.9" stroke="#8E6BA8" stroke-width="1.25"/>
<path d="M78.4,1953.8C307.9,1953.8 307.9,2383.4 537.5,2383.4" stroke="#8E6BA8" stroke-width="1.25"/>
<path d="M78.4,1954.1C307.9,1954.1 307.9,2397.2 537.5,2397.2" stroke="#8E6BA8" stroke-width="1.25"/>
<path d="M78.4,1955.8C307.9,1955.8 307.9,2477.6 537.5,2477.6" stroke="#8E6BA8" stroke-width="1.25"/>
<path d="M78.4,1992.9C307.9,1992.9 307.9,1959.8 537.5,1959.8" stroke="#E8959A" stroke-width="1.25"/>
<path d="M78.4,1999.8C307.9,1999.8 307.9,2084.8 537.5,2084.8" stroke="#E8959A" stroke-width="1.25"/>
<path d="M78.4,2021.7C307.9,2021.7 307.9,2259.2 537.5,2259.2" stroke="#E8959A" stroke-width="1.25"/>
<path d="M78.4,2023.9C307.9,2023.9 307.9,2313.4 537.5,2313.4" stroke="#E8959A" stroke-width="1.25"/>
<path d="M78.4,2024.4C307.9,2024.4 307.9,2356.5 537.5,2356.5" stroke="#E8959A" stroke-width="1.25"/>
<path d="M78.4,2025.1C307.9,2025.1 307.9,2463.6 537.5,2463.6" stroke="#E8959A" stroke-width="1.25"/>
<path d="M78.4,2058.6C307.9,2058.6 307.9,1960.0 537.5,1960.0" stroke="#3F75AC" stroke-width="1.25"/>
<path d="M78.4,2073.4C307.9,2073.4 307.9,2085.6 537.5,2085.6" stroke="#3F75AC" stroke-width="1.25"/>
<path d="M78.4,2083.8C307.9,2083.8 307.9,2144.1 537.5,2144.1" stroke="#3F75AC" stroke-width="1.25"/>
<path d="M78.4,2084.3C307.9,2084.3 307.9,2178.0 537.5,2178.0" stroke="#3F75AC" stroke-width="1.25"/>
<path d="M78.4,2084.9C307.9,2084.9 307.9,2202.6 537.5,2202.6" stroke="#3F75AC" stroke-width="1.25"/>
<path d="M78.4,2085.3C307.9,2085.3 307.9,2223.8 537.5,2223.8" stroke="#3F75AC" stroke-width="1.25"/>
<path d="M78.4,2087.9C307.9,2087.9 307.9,2259.5 537.5,2259.5" stroke="#3F75AC" stroke-width="1.25"/>
<path d="M78.4,2088.0C307.9,2088.0 307.9,2281.6 537.5,2281.6" stroke="#3F75AC" stroke-width="1.25"/>
<path d="M78.4,2088.3C307.9,2088.3 307.9,2299.9 537.5,2299.9" stroke="#3F75AC" stroke-width="1.25"/>
<path d="M78.4,2088.6C307.9,2088.6 307.9,2313.6 537.5,2313.6" stroke="#3F75AC" stroke-width="1.25"/>
<path d="M78.4,2088.8C307.9,2088.8 307.9,2328.1 537.5,2328.1" stroke="#3F75AC" stroke-width="1.25"/>
<path d="M78.4,2090.4C307.9,2090.4 307.9,2477.8 537.5,2477.8" stroke="#3F75AC" stroke-width="1.25"/>
<path d="M78.4,2136.6C307.9,2136.6 307.9,2178.9 537.5,2178.9" stroke="#A5CE8E" stroke-width="1.25"/>
<path d="M78.4,2141.6C307.9,2141.6 307.9,2244.4 537.5,2244.4" stroke="#A5CE8E" stroke-width="1.25"/>
<path d="M78.4,2153.7C307.9,2153.7 307.9,2357.0 537.5,2357.0" stroke="#A5CE8E" stroke-width="1.25"/>
<path d="M78.4,2154.3C307.9,2154.3 307.9,2383.9 537.5,2383.9" stroke="#A5CE8E" stroke-width="1.25"/>
<path d="M78.4,2155.2C307.9,2155.2 307.9,2397.9 537.5,2397.9" stroke="#A5CE8E" stroke-width="1.25"/>
<path d="M78.4,2156.0C307.9,2156.0 307.9,2411.4 537.5,2411.4" stroke="#A5CE8E" stroke-width="1.25"/>
<path d="M78.4,2157.9C307.9,2157.9 307.9,2464.3 537.5,2464.3" stroke="#A5CE8E" stroke-width="1.25"/>
<path d="M78.4,2175.8C307.9,2175.8 307.9,1930.2 537.5,1930.2" stroke="#E87B6B" stroke-width="1.25"/>
<path d="M78.4,2175.9C307.9,2175.9 307.9,1962.0 537.5,1962.0" stroke="#E87B6B" stroke-width="1.25"/>
<path d="M78.4,2175.9C307.9,2175.9 307.9,2015.9 537.5,2015.9" stroke="#E87B6B" stroke-width="1.25"/>
<path d="M78.4,2176.0C307.9,2176.0 307.9,2088.0 537.5,2088.0" stroke="#E87B6B" stroke-width="1.25"/>
<path d="M78.4,2176.3C307.9,2176.3 307.9,2122.1 537.5,2122.1" stroke="#E87B6B" stroke-width="1.25"/>
<path d="M78.4,2176.8C307.9,2176.8 307.9,2146.8 537.5,2146.8" stroke="#E87B6B" stroke-width="1.25"/>
<path d="M78.4,2177.0C307.9,2177.0 307.9,2179.6 537.5,2179.6" stroke="#E87B6B" stroke-width="1.25"/>
<path d="M78.4,2178.5C307.9,2178.5 307.9,2244.8 537.5,2244.8" stroke="#E87B6B" stroke-width="1.25"/>
<path d="M78.4,2196.9C307.9,2196.9 307.9,1930.2 537.5,1930.2" stroke="#B0908B" stroke-width="1.25"/>
<path d="M78.4,2196.9C307.9,2196.9 307.9,1962.0 537.5,1962.0" stroke="#B0908B" stroke-width="1.25"/>
<path d="M78.4,2196.9C307.9,2196.9 307.9,2015.9 537.5,2015.9" stroke="#B0908B" stroke-width="1.25"/>
<path d="M78.4,2197.1C307.9,2197.1 307.9,2088.3 537.5,2088.3" stroke="#B0908B" stroke-width="1.25"/>
<path d="M78.4,2197.5C307.9,2197.5 307.9,2122.5 537.5,2122.5" stroke="#B0908B" stroke-width="1.25"/>
<path d="M78.4,2199.4C307.9,2199.4 307.9,2179.8 537.5,2179.8" stroke="#B0908B" stroke-width="1.25"/>
<path d="M78.4,2199.8C307.9,2199.8 307.9,2207.0 537.5,2207.0" stroke="#B0908B" stroke-width="1.25"/>
<path d="M78.4,2200.1C307.9,2200.1 307.9,2244.9 537.5,2244.9" stroke="#B0908B" stroke-width="1.25"/>
<path d="M78.4,2200.3C307.9,2200.3 307.9,2283.3 537.5,2283.3" stroke="#B0908B" stroke-width="1.25"/>
<path d="M78.4,2213.2C307.9,2213.2 307.9,1867.6 537.5,1867.6" stroke="#4DA64D" stroke-width="1.25"/>
<path d="M78.4,2213.9C307.9,2213.9 307.9,1962.6 537.5,1962.6" stroke="#4DA64D" stroke-width="1.25"/>
<path d="M78.4,2214.7C307.9,2214.7 307.9,2123.0 537.5,2123.0" stroke="#4DA64D" stroke-width="1.25"/>
</g>
<rect x="58.5" y="1743.6" width="19.9" height="142.7" fill="#E8843A" stroke="#2a2a2a" stroke-width="1.1"/>
<text x="85.0" y="1830.8" font-size="24.5">Bacteroidota</text>
<rect x="58.5" y="1899.6" width="19.9" height="56.3" fill="#8E6BA8" stroke="#2a2a2a" stroke-width="1.1"/>
<text x="85.0" y="1936.0" font-size="24.5">Bacillota</text>
<rect x="58.5" y="1969.6" width="19.9" height="55.9" fill="#E8959A" stroke="#2a2a2a" stroke-width="1.1"/>
<text x="85.0" y="2005.7" font-size="24.5">Pseudomonadota</text>
<rect x="58.5" y="2038.1" width="19.9" height="52.4" fill="#3F75AC" stroke="#2a2a2a" stroke-width="1.1"/>
<text x="85.0" y="2071.1" font-size="24.5">Actinomycetota</text>
<rect x="58.5" y="2103.5" width="19.9" height="54.7" fill="#A5CE8E" stroke="#2a2a2a" stroke-width="1.1"/>
<text x="85.0" y="2139.5" font-size="24.5">Fusobacteriota</text>
<rect x="58.5" y="2171.6" width="19.9" height="6.9" fill="#E87B6B" stroke="#2a2a2a" stroke-width="1.1"/>
<text x="85.0" y="2176.5" font-size="24.5">Spirochaetota</text>
<rect x="58.5" y="2191.9" width="19.9" height="8.4" fill="#B0908B" stroke="#2a2a2a" stroke-width="1.1"/>
<text x="85.0" y="2202.0" font-size="24.5">Synergistota</text>
<rect x="58.5" y="2213.0" width="19.9" height="2.0" fill="#222"/>
<text x="85.0" y="2225.5" font-size="24.5">Campylobacterota</text>
<rect x="537.5" y="1743.6" width="19.1" height="124.3" fill="#C8855A" stroke="#2a2a2a" stroke-width="1.1"/>
<text x="532.5" y="1810.5" font-size="24.5" text-anchor="end">J 8.79x10<tspan font-size="15.5" dy="-10">10</tspan></text>
<rect x="537.5" y="1880.5" width="19.1" height="49.7" fill="#F5C462" stroke="#2a2a2a" stroke-width="1.1"/>
<text x="532.5" y="1908" font-size="24.5" text-anchor="end">G 3.49x10<tspan font-size="15.5" dy="-10">10</tspan></text>
<rect x="537.5" y="1942.5" width="19.1" height="20.6" fill="#B5A083" stroke="#2a2a2a" stroke-width="1.1"/>
<text x="532.5" y="1957.8" font-size="24.5" text-anchor="end">UW1.40x10<tspan font-size="15.5" dy="-10">10</tspan></text>
<rect x="537.5" y="1976.2" width="19.1" height="39.7" fill="#D8A78C" stroke="#2a2a2a" stroke-width="1.1"/>
<text x="532.5" y="2000.6" font-size="24.5" text-anchor="end">M 2.81x10<tspan font-size="15.5" dy="-10">10</tspan></text>
<rect x="537.5" y="2028.9" width="19.1" height="30.6" fill="#EFD79F" stroke="#2a2a2a" stroke-width="1.1"/>
<text x="532.5" y="2048.8" font-size="24.5" text-anchor="end">C 2.17x10<tspan font-size="15.5" dy="-10">10</tspan></text>
<rect x="537.5" y="2072.6" width="19.1" height="16.0" fill="#8B6F5E" stroke="#2a2a2a" stroke-width="1.1"/>
<text x="532.5" y="2084" font-size="24.5" text-anchor="end">S 1.12x10<tspan font-size="15.5" dy="-10">10</tspan></text>
<rect x="537.5" y="2102.0" width="19.1" height="21.4" fill="#737A5E" stroke="#2a2a2a" stroke-width="1.1"/>
<text x="532.5" y="2116.2" font-size="24.5" text-anchor="end">O 1.49x10<tspan font-size="15.5" dy="-10">10</tspan></text>
<rect x="537.5" y="2136.0" width="19.1" height="12.7" fill="#E0A45E" stroke="#2a2a2a" stroke-width="1.1"/>
<text x="532.5" y="2146.8" font-size="24.5" text-anchor="end">N 9.15x10<tspan font-size="15.5" dy="-10">9</tspan></text>
<rect x="537.5" y="2162.0" width="19.1" height="18.0" fill="#7A4A22" stroke="#2a2a2a" stroke-width="1.1"/>
<text x="532.5" y="2174.7" font-size="24.5" text-anchor="end">H 1.28x10<tspan font-size="15.5" dy="-10">10</tspan></text>
<rect x="537.5" y="2193.4" width="19.1" height="13.8" fill="#96A5D8" stroke="#2a2a2a" stroke-width="1.1"/>
<text x="532.5" y="2203" font-size="24.5" text-anchor="end">E 9.65x10<tspan font-size="15.5" dy="-10">9</tspan></text>
<rect x="537.5" y="2220.2" width="19.1" height="5.8" fill="#C5D8F0" stroke="#2a2a2a" stroke-width="1.1"/>
<text x="532.5" y="2226" font-size="24.5" text-anchor="end">I 4.32x10<tspan font-size="15.5" dy="-10">9</tspan></text>
<rect x="537.5" y="2238.6" width="19.1" height="6.4" fill="#E87B6B" stroke="#2a2a2a" stroke-width="1.1"/>
<text x="532.5" y="2248.2" font-size="24.5" text-anchor="end">Unassigned 4.28x10<tspan font-size="15.5" dy="-10">9</tspan></text>
<rect x="537.5" y="2258.5" width="19.1" height="6.5" fill="#DDEFF0" stroke="#2a2a2a" stroke-width="1.1"/>
<text x="531.8" y="2266.0" font-size="16.5" text-anchor="end">P</text>
<rect x="537.5" y="2278.0" width="19.1" height="5.3" fill="#3EB5C5" stroke="#2a2a2a" stroke-width="1.1"/>
<text x="531.8" y="2285.0" font-size="16.5" text-anchor="end">F</text>
<rect x="537.5" y="2296.7" width="19.1" height="3.5" fill="#7B93D0" stroke="#2a2a2a" stroke-width="1.1"/>
<text x="531.8" y="2303.6" font-size="16.5" text-anchor="end">IQ</text>
<rect x="537.5" y="2313.2" width="19.1" height="2.3" fill="#222"/>
<text x="531.8" y="2319.7" font-size="16.5" text-anchor="end">K</text>
<rect x="537.5" y="2327.7" width="19.1" height="2.3" fill="#222"/>
<text x="531.8" y="2333.5" font-size="16.5" text-anchor="end">L</text>
<rect x="537.5" y="2341.9" width="19.1" height="2.7" fill="#222"/>
<text x="531.8" y="2348.4" font-size="16.5" text-anchor="end">D</text>
<rect x="537.5" y="2355.6" width="19.1" height="1.6" fill="#222"/>
<text x="531.8" y="2363.7" font-size="16.5" text-anchor="end">CQ</text>
<rect x="537.5" y="2369.4" width="19.1" height="1.6" fill="#222"/>
<text x="531.8" y="2376.3" font-size="16.5" text-anchor="end">KT</text>
<rect x="537.5" y="2382.8" width="19.1" height="1.6" fill="#222"/>
<text x="531.8" y="2390.5" font-size="16.5" text-anchor="end">U</text>
<rect x="537.5" y="2397.0" width="19.1" height="1.4" fill="#222"/>
<text x="531.8" y="2405.0" font-size="16.5" text-anchor="end">EH</text>
<rect x="537.5" y="2410.4" width="19.1" height="1.4" fill="#222"/>
<text x="531.8" y="2417.6" font-size="16.5" text-anchor="end">CE</text>
<rect x="537.5" y="2423.4" width="19.1" height="1.4" fill="#222"/>
<text x="531.8" y="2429.9" font-size="16.5" text-anchor="end">T</text>
<rect x="537.5" y="2436.8" width="19.1" height="1.4" fill="#222"/>
<text x="531.8" y="2443.3" font-size="16.5" text-anchor="end">NT</text>
<rect x="537.5" y="2449.8" width="19.1" height="1.4" fill="#222"/>
<text x="531.8" y="2456.6" font-size="16.5" text-anchor="end">CH</text>
<rect x="537.5" y="2463.2" width="19.1" height="1.4" fill="#222"/>
<text x="531.8" y="2473.9" font-size="16.5" text-anchor="end">NU</text>
<rect x="537.5" y="2476.6" width="19.1" height="1.4" fill="#222"/>
<text x="531.8" y="2486.0" font-size="16.5" text-anchor="end">EM</text>
<text x="294.6" y="1731.0" font-size="40" text-anchor="middle">BL</text>
<text x="48.6" y="1732.8" font-size="28">Phylum</text>
<text x="419.7" y="1732.8" font-size="28">COG Category</text>
<g fill="none" stroke-opacity="0.5">
<path d="M698.1,1776.8C927.7,1776.8 927.7,1764.3 1157.2,1764.3" stroke="#E8843A" stroke-width="43.00"/>
<path d="M698.1,1921.3C927.7,1921.3 927.7,1889.0 1157.2,1889.0" stroke="#A5CE8E" stroke-width="33.00"/>
<path d="M698.1,1812.8C927.7,1812.8 927.7,1948.3 1157.2,1948.3" stroke="#E8843A" stroke-width="30.00"/>
<path d="M698.1,2011.7C927.7,2011.7 927.7,1805.8 1157.2,1805.8" stroke="#8E6BA8" stroke-width="24.00"/>
<path d="M698.1,1850.7C927.7,1850.7 927.7,2058.1 1157.2,2058.1" stroke="#E8843A" stroke-width="17.00"/>
<path d="M698.1,1834.9C927.7,1834.9 927.7,2007.4 1157.2,2007.4" stroke="#E8843A" stroke-width="15.00"/>
<path d="M698.1,1749.2C927.7,1749.2 927.7,1866.0 1157.2,1866.0" stroke="#E8843A" stroke-width="13.00"/>
<path d="M698.1,1956.8C927.7,1956.8 927.7,2021.4 1157.2,2021.4" stroke="#A5CE8E" stroke-width="13.00"/>
<path d="M698.1,2029.9C927.7,2029.9 927.7,1912.0 1157.2,1912.0" stroke="#8E6BA8" stroke-width="13.00"/>
<path d="M698.1,2077.7C927.7,2077.7 927.7,1824.3 1157.2,1824.3" stroke="#E8959A" stroke-width="13.00"/>
<path d="M698.1,2144.3C927.7,2144.3 927.7,1981.0 1157.2,1981.0" stroke="#3F75AC" stroke-width="9.50"/>
<path d="M698.1,1941.5C927.7,1941.5 927.7,1789.8 1157.2,1789.8" stroke="#A5CE8E" stroke-width="8.00"/>
<path d="M698.1,2135.4C927.7,2135.4 927.7,1834.8 1157.2,1834.8" stroke="#3F75AC" stroke-width="8.00"/>
<path d="M698.1,2155.6C927.7,2155.6 927.7,2083.8 1157.2,2083.8" stroke="#3F75AC" stroke-width="7.50"/>
<path d="M698.1,1966.1C927.7,1966.1 927.7,2069.6 1157.2,2069.6" stroke="#A5CE8E" stroke-width="6.00"/>
<path d="M698.1,1876.9C927.7,1876.9 927.7,2191.4 1157.2,2191.4" stroke="#E8843A" stroke-width="5.84"/>
<path d="M698.1,1867.4C927.7,1867.4 927.7,2133.6 1157.2,2133.6" stroke="#E8843A" stroke-width="5.73"/>
<path d="M698.1,1861.8C927.7,1861.8 927.7,2104.4 1157.2,2104.4" stroke="#E8843A" stroke-width="5.60"/>
<path d="M698.1,2094.0C927.7,2094.0 927.7,2077.3 1157.2,2077.3" stroke="#E8959A" stroke-width="5.50"/>
<path d="M698.1,2099.2C927.7,2099.2 927.7,2112.4 1157.2,2112.4" stroke="#E8959A" stroke-width="5.25"/>
<path d="M698.1,1947.9C927.7,1947.9 927.7,1965.8 1157.2,1965.8" stroke="#A5CE8E" stroke-width="5.00"/>
<path d="M698.1,2087.0C927.7,2087.0 927.7,1973.8 1157.2,1973.8" stroke="#E8959A" stroke-width="5.00"/>
<path d="M698.1,1886.7C927.7,1886.7 927.7,2255.2 1157.2,2255.2" stroke="#E8843A" stroke-width="4.24"/>
<path d="M698.1,2188.8C927.7,2188.8 927.7,1840.8 1157.2,1840.8" stroke="#B0908B" stroke-width="4.00"/>
<path d="M698.1,1872.1C927.7,1872.1 927.7,2160.1 1157.2,2160.1" stroke="#E8843A" stroke-width="3.85"/>
<path d="M698.1,2104.8C927.7,2104.8 927.7,2170.2 1157.2,2170.2" stroke="#E8959A" stroke-width="3.81"/>
<path d="M698.1,2047.1C927.7,2047.1 927.7,2166.8 1157.2,2166.8" stroke="#8E6BA8" stroke-width="3.17"/>
<path d="M698.1,1975.5C927.7,1975.5 927.7,2163.6 1157.2,2163.6" stroke="#A5CE8E" stroke-width="3.12"/>
<path d="M698.1,1972.5C927.7,1972.5 927.7,2138.0 1157.2,2138.0" stroke="#A5CE8E" stroke-width="3.07"/>
<path d="M698.1,2037.8C927.7,2037.8 927.7,1969.8 1157.2,1969.8" stroke="#8E6BA8" stroke-width="3.00"/>
<path d="M698.1,2040.7C927.7,2040.7 927.7,2029.4 1157.2,2029.4" stroke="#8E6BA8" stroke-width="3.00"/>
<path d="M698.1,2150.5C927.7,2150.5 927.7,2034.4 1157.2,2034.4" stroke="#3F75AC" stroke-width="3.00"/>
<path d="M698.1,2161.9C927.7,2161.9 927.7,2142.8 1157.2,2142.8" stroke="#3F75AC" stroke-width="2.89"/>
<path d="M698.1,1883.3C927.7,1883.3 927.7,2234.5 1157.2,2234.5" stroke="#E8843A" stroke-width="2.63"/>
<path d="M698.1,1978.4C927.7,1978.4 927.7,2216.1 1157.2,2216.1" stroke="#A5CE8E" stroke-width="2.46"/>
<path d="M698.1,1880.9C927.7,1880.9 927.7,2213.7 1157.2,2213.7" stroke="#E8843A" stroke-width="2.29"/>
<path d="M698.1,2107.7C927.7,2107.7 927.7,2196.2 1157.2,2196.2" stroke="#E8959A" stroke-width="2.14"/>
<path d="M698.1,2043.2C927.7,2043.2 927.7,2073.6 1157.2,2073.6" stroke="#8E6BA8" stroke-width="2.00"/>
<path d="M698.1,2090.4C927.7,2090.4 927.7,2031.9 1157.2,2031.9" stroke="#E8959A" stroke-width="2.00"/>
<path d="M698.1,1970.0C927.7,1970.0 927.7,2108.2 1157.2,2108.2" stroke="#A5CE8E" stroke-width="1.89"/>
<path d="M698.1,2168.8C927.7,2168.8 927.7,2260.2 1157.2,2260.2" stroke="#3F75AC" stroke-width="1.84"/>
<path d="M698.1,1982.3C927.7,1982.3 927.7,2320.2 1157.2,2320.2" stroke="#A5CE8E" stroke-width="1.82"/>
<path d="M698.1,2166.5C927.7,2166.5 927.7,2219.4 1157.2,2219.4" stroke="#3F75AC" stroke-width="1.70"/>
<path d="M698.1,2170.5C927.7,2170.5 927.7,2275.7 1157.2,2275.7" stroke="#3F75AC" stroke-width="1.63"/>
<path d="M698.1,2053.9C927.7,2053.9 927.7,2321.9 1157.2,2321.9" stroke="#8E6BA8" stroke-width="1.58"/>
<path d="M698.1,2109.8C927.7,2109.8 927.7,2238.0 1157.2,2238.0" stroke="#E8959A" stroke-width="1.56"/>
<path d="M698.1,2192.3C927.7,2192.3 927.7,2174.2 1157.2,2174.2" stroke="#B0908B" stroke-width="1.55"/>
<path d="M698.1,2113.3C927.7,2113.3 927.7,2304.9 1157.2,2304.9" stroke="#E8959A" stroke-width="1.53"/>
<path d="M698.1,2117.0C927.7,2117.0 927.7,2381.7 1157.2,2381.7" stroke="#E8959A" stroke-width="1.53"/>
<path d="M698.1,2209.2C927.7,2209.2 927.7,1843.5 1157.2,1843.5" stroke="#4DA64D" stroke-width="1.50"/>
<path d="M698.1,2225.5C927.7,2225.5 927.7,1845.0 1157.2,1845.0" stroke="#E87B6B" stroke-width="1.40"/>
<path d="M698.1,2115.6C927.7,2115.6 927.7,2351.5 1157.2,2351.5" stroke="#E8959A" stroke-width="1.38"/>
<path d="M698.1,2163.9C927.7,2163.9 927.7,2172.8 1157.2,2172.8" stroke="#3F75AC" stroke-width="1.32"/>
<path d="M698.1,1889.3C927.7,1889.3 927.7,2410.0 1157.2,2410.0" stroke="#E8843A" stroke-width="1.25"/>
<path d="M698.1,1889.9C927.7,1889.9 927.7,2436.6 1157.2,2436.6" stroke="#E8843A" stroke-width="1.25"/>
<path d="M698.1,1890.2C927.7,1890.2 927.7,2449.9 1157.2,2449.9" stroke="#E8843A" stroke-width="1.25"/>
<path d="M698.1,1890.5C927.7,1890.5 927.7,2476.5 1157.2,2476.5" stroke="#E8843A" stroke-width="1.25"/>
<path d="M698.1,1977.1C927.7,1977.1 927.7,2194.4 1157.2,2194.4" stroke="#A5CE8E" stroke-width="1.25"/>
<path d="M698.1,1980.1C927.7,1980.1 927.7,2236.3 1157.2,2236.3" stroke="#A5CE8E" stroke-width="1.25"/>
<path d="M698.1,1981.0C927.7,1981.0 927.7,2257.8 1157.2,2257.8" stroke="#A5CE8E" stroke-width="1.25"/>
<path d="M698.1,1983.8C927.7,1983.8 927.7,2366.2 1157.2,2366.2" stroke="#A5CE8E" stroke-width="1.25"/>
<path d="M698.1,1984.9C927.7,1984.9 927.7,2396.4 1157.2,2396.4" stroke="#A5CE8E" stroke-width="1.25"/>
<path d="M698.1,1985.5C927.7,1985.5 927.7,2436.8 1157.2,2436.8" stroke="#A5CE8E" stroke-width="1.25"/>
<path d="M698.1,1985.6C927.7,1985.6 927.7,2476.8 1157.2,2476.8" stroke="#A5CE8E" stroke-width="1.25"/>
<path d="M698.1,2044.5C927.7,2044.5 927.7,2109.4 1157.2,2109.4" stroke="#8E6BA8" stroke-width="1.25"/>
<path d="M698.1,2045.2C927.7,2045.2 927.7,2139.8 1157.2,2139.8" stroke="#8E6BA8" stroke-width="1.25"/>
<path d="M698.1,2049.0C927.7,2049.0 927.7,2194.8 1157.2,2194.8" stroke="#8E6BA8" stroke-width="1.25"/>
<path d="M698.1,2049.7C927.7,2049.7 927.7,2217.7 1157.2,2217.7" stroke="#8E6BA8" stroke-width="1.25"/>
<path d="M698.1,2050.2C927.7,2050.2 927.7,2237.0 1157.2,2237.0" stroke="#8E6BA8" stroke-width="1.25"/>
<path d="M698.1,2050.7C927.7,2050.7 927.7,2258.4 1157.2,2258.4" stroke="#8E6BA8" stroke-width="1.25"/>
<path d="M698.1,2051.2C927.7,2051.2 927.7,2274.1 1157.2,2274.1" stroke="#8E6BA8" stroke-width="1.25"/>
<path d="M698.1,2051.7C927.7,2051.7 927.7,2289.3 1157.2,2289.3" stroke="#8E6BA8" stroke-width="1.25"/>
<path d="M698.1,2052.6C927.7,2052.6 927.7,2303.6 1157.2,2303.6" stroke="#8E6BA8" stroke-width="1.25"/>
<path d="M698.1,2055.0C927.7,2055.0 927.7,2336.5 1157.2,2336.5" stroke="#8E6BA8" stroke-width="1.25"/>
<path d="M698.1,2055.6C927.7,2055.6 927.7,2350.6 1157.2,2350.6" stroke="#8E6BA8" stroke-width="1.25"/>
<path d="M698.1,2056.4C927.7,2056.4 927.7,2367.3 1157.2,2367.3" stroke="#8E6BA8" stroke-width="1.25"/>
<path d="M698.1,2057.1C927.7,2057.1 927.7,2410.6 1157.2,2410.6" stroke="#8E6BA8" stroke-width="1.25"/>
<path d="M698.1,2057.6C927.7,2057.6 927.7,2423.4 1157.2,2423.4" stroke="#8E6BA8" stroke-width="1.25"/>
<path d="M698.1,2058.0C927.7,2058.0 927.7,2462.8 1157.2,2462.8" stroke="#8E6BA8" stroke-width="1.25"/>
<path d="M698.1,2084.3C927.7,2084.3 927.7,1918.8 1157.2,1918.8" stroke="#E8959A" stroke-width="1.25"/>
<path d="M698.1,2102.4C927.7,2102.4 927.7,2140.8 1157.2,2140.8" stroke="#E8959A" stroke-width="1.25"/>
<path d="M698.1,2108.9C927.7,2108.9 927.7,2218.3 1157.2,2218.3" stroke="#E8959A" stroke-width="1.25"/>
<path d="M698.1,2110.9C927.7,2110.9 927.7,2259.0 1157.2,2259.0" stroke="#E8959A" stroke-width="1.25"/>
<path d="M698.1,2111.5C927.7,2111.5 927.7,2274.6 1157.2,2274.6" stroke="#E8959A" stroke-width="1.25"/>
<path d="M698.1,2112.1C927.7,2112.1 927.7,2290.0 1157.2,2290.0" stroke="#E8959A" stroke-width="1.25"/>
<path d="M698.1,2114.5C927.7,2114.5 927.7,2337.3 1157.2,2337.3" stroke="#E8959A" stroke-width="1.25"/>
<path d="M698.1,2117.9C927.7,2117.9 927.7,2463.1 1157.2,2463.1" stroke="#E8959A" stroke-width="1.25"/>
<path d="M698.1,2139.5C927.7,2139.5 927.7,1919.3 1157.2,1919.3" stroke="#3F75AC" stroke-width="1.25"/>
<path d="M698.1,2159.9C927.7,2159.9 927.7,2115.6 1157.2,2115.6" stroke="#3F75AC" stroke-width="1.25"/>
<path d="M698.1,2165.1C927.7,2165.1 927.7,2197.9 1157.2,2197.9" stroke="#3F75AC" stroke-width="1.25"/>
<path d="M698.1,2167.6C927.7,2167.6 927.7,2239.0 1157.2,2239.0" stroke="#3F75AC" stroke-width="1.25"/>
<path d="M698.1,2171.7C927.7,2171.7 927.7,2382.8 1157.2,2382.8" stroke="#3F75AC" stroke-width="1.25"/>
<path d="M698.1,2172.1C927.7,2172.1 927.7,2410.7 1157.2,2410.7" stroke="#3F75AC" stroke-width="1.25"/>
<path d="M698.1,2172.3C927.7,2172.3 927.7,2437.0 1157.2,2437.0" stroke="#3F75AC" stroke-width="1.25"/>
<path d="M698.1,2172.7C927.7,2172.7 927.7,2450.3 1157.2,2450.3" stroke="#3F75AC" stroke-width="1.25"/>
<path d="M698.1,2173.1C927.7,2173.1 927.7,2463.4 1157.2,2463.4" stroke="#3F75AC" stroke-width="1.25"/>
<path d="M698.1,2190.9C927.7,2190.9 927.7,1985.9 1157.2,1985.9" stroke="#B0908B" stroke-width="1.25"/>
<path d="M698.1,2191.0C927.7,2191.0 927.7,2035.9 1157.2,2035.9" stroke="#B0908B" stroke-width="1.25"/>
<path d="M698.1,2191.0C927.7,2191.0 927.7,2087.6 1157.2,2087.6" stroke="#B0908B" stroke-width="1.25"/>
<path d="M698.1,2191.1C927.7,2191.1 927.7,2116.3 1157.2,2116.3" stroke="#B0908B" stroke-width="1.25"/>
<path d="M698.1,2191.4C927.7,2191.4 927.7,2144.4 1157.2,2144.4" stroke="#B0908B" stroke-width="1.25"/>
<path d="M698.1,2193.2C927.7,2193.2 927.7,2198.6 1157.2,2198.6" stroke="#B0908B" stroke-width="1.25"/>
<path d="M698.1,2193.6C927.7,2193.6 927.7,2239.5 1157.2,2239.5" stroke="#B0908B" stroke-width="1.25"/>
<path d="M698.1,2193.8C927.7,2193.8 927.7,2261.2 1157.2,2261.2" stroke="#B0908B" stroke-width="1.25"/>
<path d="M698.1,2211.1C927.7,2211.1 927.7,2036.1 1157.2,2036.1" stroke="#4DA64D" stroke-width="1.25"/>
<path d="M698.1,2226.2C927.7,2226.2 927.7,1986.1 1157.2,1986.1" stroke="#E87B6B" stroke-width="1.25"/>
<path d="M698.1,2226.5C927.7,2226.5 927.7,2116.6 1157.2,2116.6" stroke="#E87B6B" stroke-width="1.25"/>
<path d="M698.1,2226.9C927.7,2226.9 927.7,2144.7 1157.2,2144.7" stroke="#E87B6B" stroke-width="1.25"/>
<path d="M698.1,2227.3C927.7,2227.3 927.7,2175.3 1157.2,2175.3" stroke="#E87B6B" stroke-width="1.25"/>
</g>
<rect x="678.3" y="1742.8" width="19.8" height="148.0" fill="#E8843A" stroke="#2a2a2a" stroke-width="1.1"/>
<text x="705.8" y="1832.3" font-size="24.5">Bacteroidota</text>
<rect x="678.3" y="1905.0" width="19.8" height="80.7" fill="#A5CE8E" stroke="#2a2a2a" stroke-width="1.1"/>
<text x="705.8" y="1955.9" font-size="24.5">Fusobacteriota</text>
<rect x="678.3" y="1999.9" width="19.8" height="58.1" fill="#8E6BA8" stroke="#2a2a2a" stroke-width="1.1"/>
<text x="705.8" y="2036.2" font-size="24.5">Bacillota</text>
<rect x="678.3" y="2071.4" width="19.8" height="46.7" fill="#E8959A" stroke="#2a2a2a" stroke-width="1.1"/>
<text x="705.8" y="2102.0" font-size="24.5">Pseudomonadota</text>
<rect x="678.3" y="2131.5" width="19.8" height="41.7" fill="#3F75AC" stroke="#2a2a2a" stroke-width="1.1"/>
<text x="705.8" y="2156.3" font-size="24.5">Actinomycetota</text>
<rect x="678.3" y="2186.9" width="19.8" height="6.9" fill="#B0908B" stroke="#2a2a2a" stroke-width="1.1"/>
<text x="705.8" y="2190.0" font-size="24.5">Synergistota</text>
<rect x="678.3" y="2207.6" width="19.8" height="3.8" fill="#4DA64D" stroke="#2a2a2a" stroke-width="1.1"/>
<text x="705.8" y="2214.5" font-size="24.5">Campylobacterota</text>
<rect x="678.3" y="2224.8" width="19.8" height="2.7" fill="#E87B6B"/>
<text x="705.8" y="2239.4" font-size="24.5">Spirochaetota</text>
<rect x="1157.2" y="1742.8" width="19.1" height="102.9" fill="#C8855A" stroke="#2a2a2a" stroke-width="1.1"/>
<text x="1150" y="1801.7" font-size="24.5" text-anchor="end">J 8.19x10<tspan font-size="15.5" dy="-10">10</tspan></text>
<rect x="1157.2" y="1859.5" width="19.1" height="60.0" fill="#E0A45E" stroke="#2a2a2a" stroke-width="1.1"/>
<text x="1150" y="1897.3" font-size="24.5" text-anchor="end">N 4.82x10<tspan font-size="15.5" dy="-10">10</tspan></text>
<rect x="1157.2" y="1933.3" width="19.1" height="52.8" fill="#F5C462" stroke="#2a2a2a" stroke-width="1.1"/>
<text x="1150" y="1966.2" font-size="24.5" text-anchor="end">G 4.23x10<tspan font-size="15.5" dy="-10">10</tspan></text>
<rect x="1157.2" y="1999.9" width="19.1" height="36.3" fill="#EFD79F" stroke="#2a2a2a" stroke-width="1.1"/>
<text x="1150" y="2024.7" font-size="24.5" text-anchor="end">C 2.92x10<tspan font-size="15.5" dy="-10">10</tspan></text>
<rect x="1157.2" y="2049.6" width="19.1" height="38.1" fill="#D8A78C" stroke="#2a2a2a" stroke-width="1.1"/>
<text x="1150" y="2075.6" font-size="24.5" text-anchor="end">M 3.08x10<tspan font-size="15.5" dy="-10">10</tspan></text>
<rect x="1157.2" y="2101.6" width="19.1" height="15.3" fill="#B5A083" stroke="#2a2a2a" stroke-width="1.1"/>
<text x="1150" y="2115.4" font-size="24.5" text-anchor="end">UW 1.22x10<tspan font-size="15.5" dy="-10">10</tspan></text>
<rect x="1157.2" y="2130.7" width="19.1" height="14.2" fill="#7A4A22" stroke="#2a2a2a" stroke-width="1.1"/>
<text x="1150" y="2144.1" font-size="24.5" text-anchor="end">H 1.20x10<tspan font-size="15.5" dy="-10">10</tspan></text>
<rect x="1157.2" y="2158.2" width="19.1" height="17.3" fill="#737A5E" stroke="#2a2a2a" stroke-width="1.1"/>
<text x="1150" y="2173.6" font-size="24.5" text-anchor="end">O 1.34x10<tspan font-size="15.5" dy="-10">10</tspan></text>
<rect x="1157.2" y="2188.5" width="19.1" height="10.3" fill="#8B6F5E" stroke="#2a2a2a" stroke-width="1.1"/>
<text x="1150" y="2200.3" font-size="24.5" text-anchor="end">S 8.82x10<tspan font-size="15.5" dy="-10">9</tspan></text>
<rect x="1157.2" y="2212.6" width="19.1" height="7.6" fill="#DDEFF0" stroke="#2a2a2a" stroke-width="1.1"/>
<text x="1150" y="2223.3" font-size="24.5" text-anchor="end">P 6.35x10<tspan font-size="15.5" dy="-10">9</tspan></text>
<rect x="1157.2" y="2233.2" width="19.1" height="6.5" fill="#C5D8F0" stroke="#2a2a2a" stroke-width="1.1"/>
<text x="1150" y="2243.6" font-size="24.5" text-anchor="end">I 4.98x10<tspan font-size="15.5" dy="-10">9</tspan></text>
<rect x="1157.2" y="2253.1" width="19.1" height="8.1" fill="#96A5D8" stroke="#2a2a2a" stroke-width="1.1"/>
<text x="1150" y="2263.5" font-size="24.5" text-anchor="end">E 6.21x10<tspan font-size="15.5" dy="-10">9</tspan></text>
<rect x="1157.2" y="2273.8" width="19.1" height="2.7" fill="#3A7D44"/>
<text x="1152.6" y="2280.7" font-size="16.5" text-anchor="end">KT</text>
<rect x="1157.2" y="2289.0" width="19.1" height="1.5" fill="#333"/>
<text x="1152.6" y="2294.8" font-size="16.5" text-anchor="end">L</text>
<rect x="1157.2" y="2303.0" width="19.1" height="2.7" fill="#7B93D0"/>
<text x="1152.6" y="2310.1" font-size="16.5" text-anchor="end">IQ</text>
<rect x="1157.2" y="2319.3" width="19.1" height="3.4" fill="#3EB5C5" stroke="#2a2a2a" stroke-width="1.1"/>
<text x="1152.6" y="2325.4" font-size="16.5" text-anchor="end">F</text>
<rect x="1157.2" y="2336.2" width="19.1" height="1.5" fill="#333"/>
<text x="1152.6" y="2341.9" font-size="16.5" text-anchor="end">NU</text>
<rect x="1157.2" y="2350.3" width="19.1" height="1.9" fill="#9A9A9A"/>
<text x="1152.6" y="2356.4" font-size="16.5" text-anchor="end">D</text>
<rect x="1157.2" y="2365.6" width="19.1" height="2.3" fill="#E87B6B"/>
<text x="1152.6" y="2372.5" font-size="16.5" text-anchor="end">Unassigned</text>
<rect x="1157.2" y="2380.9" width="19.1" height="2.3" fill="#B85C4A"/>
<text x="1152.6" y="2387.8" font-size="16.5" text-anchor="end">K</text>
<rect x="1157.2" y="2395.8" width="19.1" height="1.2" fill="#333"/>
<text x="1152.6" y="2401.2" font-size="16.5" text-anchor="end">NT</text>
<rect x="1157.2" y="2409.6" width="19.1" height="1.1" fill="#333"/>
<text x="1152.6" y="2415.7" font-size="16.5" text-anchor="end">T</text>
<rect x="1157.2" y="2423.0" width="19.1" height="0.8" fill="#333"/>
<text x="1152.6" y="2428.7" font-size="16.5" text-anchor="end">CQ</text>
<rect x="1157.2" y="2436.4" width="19.1" height="0.8" fill="#9A9A9A"/>
<text x="1152.6" y="2442.1" font-size="16.5" text-anchor="end">U</text>
<rect x="1157.2" y="2449.8" width="19.1" height="0.7" fill="#333"/>
<text x="1152.6" y="2454.7" font-size="16.5" text-anchor="end">CH</text>
<rect x="1157.2" y="2462.8" width="19.1" height="0.7" fill="#333"/>
<text x="1152.6" y="2468.1" font-size="16.5" text-anchor="end">CO</text>
<rect x="1157.2" y="2476.2" width="19.1" height="0.7" fill="#333"/>
<text x="1152.6" y="2481.5" font-size="16.5" text-anchor="end">MP</text>
<text x="913.9" y="1728.3" font-size="41.5" text-anchor="middle">CT_Sup</text>
<text x="664.9" y="1737.8" font-size="28">Phylum</text>
<text x="1021.8" y="1737.8" font-size="28">COG Category</text>
<g fill="none" stroke-opacity="0.5">
<path d="M1330.3,1754.9C1559.7,1754.9 1559.7,1755.0 1789.0,1755.0" stroke="#E8843A" stroke-width="32.00"/>
<path d="M1330.3,1784.8C1559.7,1784.8 1559.7,1813.8 1789.0,1813.8" stroke="#E8843A" stroke-width="28.00"/>
<path d="M1330.3,1834.8C1559.7,1834.8 1559.7,1980.8 1789.0,1980.8" stroke="#E8843A" stroke-width="22.50"/>
<path d="M1330.3,1880.4C1559.7,1880.4 1559.7,1837.3 1789.0,1837.3" stroke="#8E6BA8" stroke-width="19.00"/>
<path d="M1330.3,1805.2C1559.7,1805.2 1559.7,1899.3 1789.0,1899.3" stroke="#E8843A" stroke-width="13.00"/>
<path d="M1330.3,1817.6C1559.7,1817.6 1559.7,1930.5 1789.0,1930.5" stroke="#E8843A" stroke-width="12.00"/>
<path d="M1330.3,2021.5C1559.7,2021.5 1559.7,2002.1 1789.0,2002.1" stroke="#3F75AC" stroke-width="12.00"/>
<path d="M1330.3,1947.8C1559.7,1947.8 1559.7,1944.2 1789.0,1944.2" stroke="#A5CE8E" stroke-width="11.50"/>
<path d="M1330.3,2083.8C1559.7,2083.8 1559.7,2013.3 1789.0,2013.3" stroke="#E8959A" stroke-width="10.50"/>
<path d="M1330.3,2007.7C1559.7,2007.7 1559.7,1857.8 1789.0,1857.8" stroke="#3F75AC" stroke-width="10.00"/>
<path d="M1330.3,2070.8C1559.7,2070.8 1559.7,1867.8 1789.0,1867.8" stroke="#E8959A" stroke-width="10.00"/>
<path d="M1330.3,1897.1C1559.7,1897.1 1559.7,2036.1 1789.0,2036.1" stroke="#8E6BA8" stroke-width="6.56"/>
<path d="M1330.3,1963.0C1559.7,1963.0 1559.7,2072.2 1789.0,2072.2" stroke="#A5CE8E" stroke-width="6.48"/>
<path d="M1330.3,1975.0C1559.7,1975.0 1559.7,2125.3 1789.0,2125.3" stroke="#A5CE8E" stroke-width="6.30"/>
<path d="M1330.3,1969.1C1559.7,1969.1 1559.7,2097.7 1789.0,2097.7" stroke="#A5CE8E" stroke-width="6.08"/>
<path d="M1330.3,1936.8C1559.7,1936.8 1559.7,1849.8 1789.0,1849.8" stroke="#A5CE8E" stroke-width="6.00"/>
<path d="M1330.3,1903.0C1559.7,1903.0 1559.7,2066.2 1789.0,2066.2" stroke="#8E6BA8" stroke-width="5.52"/>
<path d="M1330.3,2122.1C1559.7,2122.1 1559.7,1875.3 1789.0,1875.3" stroke="#B0908B" stroke-width="5.00"/>
<path d="M1330.3,1957.6C1559.7,1957.6 1559.7,2041.7 1789.0,2041.7" stroke="#A5CE8E" stroke-width="4.73"/>
<path d="M1330.3,2093.9C1559.7,2093.9 1559.7,2104.7 1789.0,2104.7" stroke="#E8959A" stroke-width="3.72"/>
<path d="M1330.3,2036.9C1559.7,2036.9 1559.7,2154.1 1789.0,2154.1" stroke="#3F75AC" stroke-width="3.41"/>
<path d="M1330.3,2045.3C1559.7,2045.3 1559.7,2241.2 1789.0,2241.2" stroke="#3F75AC" stroke-width="3.28"/>
<path d="M1330.3,2097.3C1559.7,2097.3 1559.7,2130.7 1789.0,2130.7" stroke="#E8959A" stroke-width="3.21"/>
<path d="M1330.3,2031.1C1559.7,2031.1 1559.7,2077.0 1789.0,2077.0" stroke="#3F75AC" stroke-width="3.07"/>
<path d="M1330.3,1869.8C1559.7,1869.8 1559.7,1772.5 1789.0,1772.5" stroke="#8E6BA8" stroke-width="3.00"/>
<path d="M1330.3,1932.4C1559.7,1932.4 1559.7,1775.5 1789.0,1775.5" stroke="#A5CE8E" stroke-width="3.00"/>
<path d="M1330.3,2001.4C1559.7,2001.4 1559.7,1778.5 1789.0,1778.5" stroke="#3F75AC" stroke-width="3.00"/>
<path d="M1330.3,2014.2C1559.7,2014.2 1559.7,1951.5 1789.0,1951.5" stroke="#3F75AC" stroke-width="3.00"/>
<path d="M1330.3,2064.5C1559.7,2064.5 1559.7,1781.5 1789.0,1781.5" stroke="#E8959A" stroke-width="3.00"/>
<path d="M1330.3,1941.0C1559.7,1941.0 1559.7,1907.5 1789.0,1907.5" stroke="#A5CE8E" stroke-width="2.70"/>
<path d="M1330.3,2090.2C1559.7,2090.2 1559.7,2047.7 1789.0,2047.7" stroke="#E8959A" stroke-width="2.57"/>
<path d="M1330.3,1980.1C1559.7,1980.1 1559.7,2188.5 1789.0,2188.5" stroke="#A5CE8E" stroke-width="2.56"/>
<path d="M1330.3,2077.4C1559.7,2077.4 1559.7,1954.2 1789.0,1954.2" stroke="#E8959A" stroke-width="2.50"/>
<path d="M1330.3,2028.4C1559.7,2028.4 1559.7,2045.3 1789.0,2045.3" stroke="#3F75AC" stroke-width="2.32"/>
<path d="M1330.3,1852.2C1559.7,1852.2 1559.7,2256.9 1789.0,2256.9" stroke="#E8843A" stroke-width="2.17"/>
<path d="M1330.3,2156.9C1559.7,2156.9 1559.7,2134.6 1789.0,2134.6" stroke="#4DA64D" stroke-width="2.16"/>
<path d="M1330.3,2033.6C1559.7,2033.6 1559.7,2101.8 1789.0,2101.8" stroke="#3F75AC" stroke-width="2.10"/>
<path d="M1330.3,2041.4C1559.7,2041.4 1559.7,2206.8 1789.0,2206.8" stroke="#3F75AC" stroke-width="2.03"/>
<path d="M1330.3,1891.0C1559.7,1891.0 1559.7,1937.5 1789.0,1937.5" stroke="#8E6BA8" stroke-width="2.00"/>
<path d="M1330.3,1893.0C1559.7,1893.0 1559.7,1993.1 1789.0,1993.1" stroke="#8E6BA8" stroke-width="2.00"/>
<path d="M1330.3,1954.4C1559.7,1954.4 1559.7,1995.1 1789.0,1995.1" stroke="#A5CE8E" stroke-width="2.00"/>
<path d="M1330.3,1907.2C1559.7,1907.2 1559.7,2121.2 1789.0,2121.2" stroke="#8E6BA8" stroke-width="1.93"/>
<path d="M1330.3,2039.5C1559.7,2039.5 1559.7,2190.7 1789.0,2190.7" stroke="#3F75AC" stroke-width="1.90"/>
<path d="M1330.3,1913.2C1559.7,1913.2 1559.7,2222.9 1789.0,2222.9" stroke="#8E6BA8" stroke-width="1.80"/>
<path d="M1330.3,1909.0C1559.7,1909.0 1559.7,2150.7 1789.0,2150.7" stroke="#8E6BA8" stroke-width="1.69"/>
<path d="M1330.3,2100.6C1559.7,2100.6 1559.7,2171.2 1789.0,2171.2" stroke="#E8959A" stroke-width="1.67"/>
<path d="M1330.3,1914.8C1559.7,1914.8 1559.7,2273.3 1789.0,2273.3" stroke="#8E6BA8" stroke-width="1.64"/>
<path d="M1330.3,2118.9C1559.7,2118.9 1559.7,1783.8 1789.0,1783.8" stroke="#B0908B" stroke-width="1.54"/>
<path d="M1330.3,1911.5C1559.7,1911.5 1559.7,2186.5 1789.0,2186.5" stroke="#8E6BA8" stroke-width="1.40"/>
<path d="M1330.3,2043.0C1559.7,2043.0 1559.7,2224.5 1789.0,2224.5" stroke="#3F75AC" stroke-width="1.36"/>
<path d="M1330.3,2140.1C1559.7,2140.1 1559.7,2132.9 1789.0,2132.9" stroke="#E87B6B" stroke-width="1.26"/>
<path d="M1330.3,1846.2C1559.7,1846.2 1559.7,2032.6 1789.0,2032.6" stroke="#E8843A" stroke-width="1.25"/>
<path d="M1330.3,1847.0C1559.7,1847.0 1559.7,2062.8 1789.0,2062.8" stroke="#E8843A" stroke-width="1.25"/>
<path d="M1330.3,1848.1C1559.7,1848.1 1559.7,2093.6 1789.0,2093.6" stroke="#E8843A" stroke-width="1.25"/>
<path d="M1330.3,1848.6C1559.7,1848.6 1559.7,2120.1 1789.0,2120.1" stroke="#E8843A" stroke-width="1.25"/>
<path d="M1330.3,1849.1C1559.7,1849.1 1559.7,2149.4 1789.0,2149.4" stroke="#E8843A" stroke-width="1.25"/>
<path d="M1330.3,1849.7C1559.7,1849.7 1559.7,2185.6 1789.0,2185.6" stroke="#E8843A" stroke-width="1.25"/>
<path d="M1330.3,1850.3C1559.7,1850.3 1559.7,2221.7 1789.0,2221.7" stroke="#E8843A" stroke-width="1.25"/>
<path d="M1330.3,1850.9C1559.7,1850.9 1559.7,2239.3 1789.0,2239.3" stroke="#E8843A" stroke-width="1.25"/>
<path d="M1330.3,1853.4C1559.7,1853.4 1559.7,2272.3 1789.0,2272.3" stroke="#E8843A" stroke-width="1.25"/>
<path d="M1330.3,1853.7C1559.7,1853.7 1559.7,2340.9 1789.0,2340.9" stroke="#E8843A" stroke-width="1.25"/>
<path d="M1330.3,1854.3C1559.7,1854.3 1559.7,2354.5 1789.0,2354.5" stroke="#E8843A" stroke-width="1.25"/>
<path d="M1330.3,1854.8C1559.7,1854.8 1559.7,2380.5 1789.0,2380.5" stroke="#E8843A" stroke-width="1.25"/>
<path d="M1330.3,1854.9C1559.7,1854.9 1559.7,2433.4 1789.0,2433.4" stroke="#E8843A" stroke-width="1.25"/>
<path d="M1330.3,1855.2C1559.7,1855.2 1559.7,2459.8 1789.0,2459.8" stroke="#E8843A" stroke-width="1.25"/>
<path d="M1330.3,1889.9C1559.7,1889.9 1559.7,1906.0 1789.0,1906.0" stroke="#8E6BA8" stroke-width="1.25"/>
<path d="M1330.3,1906.0C1559.7,1906.0 1559.7,2094.3 1789.0,2094.3" stroke="#8E6BA8" stroke-width="1.25"/>
<path d="M1330.3,1910.3C1559.7,1910.3 1559.7,2169.8 1789.0,2169.8" stroke="#8E6BA8" stroke-width="1.25"/>
<path d="M1330.3,1912.2C1559.7,1912.2 1559.7,2205.8 1789.0,2205.8" stroke="#8E6BA8" stroke-width="1.25"/>
<path d="M1330.3,1915.8C1559.7,1915.8 1559.7,2367.2 1789.0,2367.2" stroke="#8E6BA8" stroke-width="1.25"/>
<path d="M1330.3,1916.2C1559.7,1916.2 1559.7,2380.8 1789.0,2380.8" stroke="#8E6BA8" stroke-width="1.25"/>
<path d="M1330.3,1916.4C1559.7,1916.4 1559.7,2393.5 1789.0,2393.5" stroke="#8E6BA8" stroke-width="1.25"/>
<path d="M1330.3,1916.8C1559.7,1916.8 1559.7,2407.3 1789.0,2407.3" stroke="#8E6BA8" stroke-width="1.25"/>
<path d="M1330.3,1917.3C1559.7,1917.3 1559.7,2433.7 1789.0,2433.7" stroke="#8E6BA8" stroke-width="1.25"/>
<path d="M1330.3,1917.5C1559.7,1917.5 1559.7,2446.4 1789.0,2446.4" stroke="#8E6BA8" stroke-width="1.25"/>
<path d="M1330.3,1978.5C1559.7,1978.5 1559.7,2151.9 1789.0,2151.9" stroke="#A5CE8E" stroke-width="1.25"/>
<path d="M1330.3,1981.7C1559.7,1981.7 1559.7,2258.3 1789.0,2258.3" stroke="#A5CE8E" stroke-width="1.25"/>
<path d="M1330.3,1982.2C1559.7,1982.2 1559.7,2287.0 1789.0,2287.0" stroke="#A5CE8E" stroke-width="1.25"/>
<path d="M1330.3,1982.6C1559.7,1982.6 1559.7,2300.8 1789.0,2300.8" stroke="#A5CE8E" stroke-width="1.25"/>
<path d="M1330.3,1982.9C1559.7,1982.9 1559.7,2314.0 1789.0,2314.0" stroke="#A5CE8E" stroke-width="1.25"/>
<path d="M1330.3,1983.2C1559.7,1983.2 1559.7,2367.6 1789.0,2367.6" stroke="#A5CE8E" stroke-width="1.25"/>
<path d="M1330.3,1983.7C1559.7,1983.7 1559.7,2393.9 1789.0,2393.9" stroke="#A5CE8E" stroke-width="1.25"/>
<path d="M1330.3,1984.1C1559.7,1984.1 1559.7,2420.4 1789.0,2420.4" stroke="#A5CE8E" stroke-width="1.25"/>
<path d="M1330.3,1984.5C1559.7,1984.5 1559.7,2446.7 1789.0,2446.7" stroke="#A5CE8E" stroke-width="1.25"/>
<path d="M1330.3,1985.1C1559.7,1985.1 1559.7,2460.2 1789.0,2460.2" stroke="#A5CE8E" stroke-width="1.25"/>
<path d="M1330.3,1985.7C1559.7,1985.7 1559.7,2473.1 1789.0,2473.1" stroke="#A5CE8E" stroke-width="1.25"/>
<path d="M1330.3,2012.6C1559.7,2012.6 1559.7,1909.0 1789.0,1909.0" stroke="#3F75AC" stroke-width="1.25"/>
<path d="M1330.3,2034.9C1559.7,2034.9 1559.7,2128.7 1789.0,2128.7" stroke="#3F75AC" stroke-width="1.25"/>
<path d="M1330.3,2047.1C1559.7,2047.1 1559.7,2301.2 1789.0,2301.2" stroke="#3F75AC" stroke-width="1.25"/>
<path d="M1330.3,2047.6C1559.7,2047.6 1559.7,2314.4 1789.0,2314.4" stroke="#3F75AC" stroke-width="1.25"/>
<path d="M1330.3,2048.2C1559.7,2048.2 1559.7,2327.6 1789.0,2327.6" stroke="#3F75AC" stroke-width="1.25"/>
<path d="M1330.3,2048.7C1559.7,2048.7 1559.7,2341.3 1789.0,2341.3" stroke="#3F75AC" stroke-width="1.25"/>
<path d="M1330.3,2049.0C1559.7,2049.0 1559.7,2381.2 1789.0,2381.2" stroke="#3F75AC" stroke-width="1.25"/>
<path d="M1330.3,2049.2C1559.7,2049.2 1559.7,2407.7 1789.0,2407.7" stroke="#3F75AC" stroke-width="1.25"/>
<path d="M1330.3,2076.0C1559.7,2076.0 1559.7,1909.3 1789.0,1909.3" stroke="#E8959A" stroke-width="1.25"/>
<path d="M1330.3,2091.8C1559.7,2091.8 1559.7,2078.9 1789.0,2078.9" stroke="#E8959A" stroke-width="1.25"/>
<path d="M1330.3,2099.3C1559.7,2099.3 1559.7,2156.2 1789.0,2156.2" stroke="#E8959A" stroke-width="1.25"/>
<path d="M1330.3,2101.8C1559.7,2101.8 1559.7,2192.1 1789.0,2192.1" stroke="#E8959A" stroke-width="1.25"/>
<path d="M1330.3,2102.5C1559.7,2102.5 1559.7,2208.1 1789.0,2208.1" stroke="#E8959A" stroke-width="1.25"/>
<path d="M1330.3,2102.9C1559.7,2102.9 1559.7,2258.8 1789.0,2258.8" stroke="#E8959A" stroke-width="1.25"/>
<path d="M1330.3,2103.1C1559.7,2103.1 1559.7,2274.1 1789.0,2274.1" stroke="#E8959A" stroke-width="1.25"/>
<path d="M1330.3,2103.3C1559.7,2103.3 1559.7,2287.4 1789.0,2287.4" stroke="#E8959A" stroke-width="1.25"/>
<path d="M1330.3,2103.6C1559.7,2103.6 1559.7,2328.0 1789.0,2328.0" stroke="#E8959A" stroke-width="1.25"/>
<path d="M1330.3,2103.7C1559.7,2103.7 1559.7,2367.9 1789.0,2367.9" stroke="#E8959A" stroke-width="1.25"/>
<path d="M1330.3,2103.8C1559.7,2103.8 1559.7,2394.3 1789.0,2394.3" stroke="#E8959A" stroke-width="1.25"/>
<path d="M1330.3,2104.1C1559.7,2104.1 1559.7,2420.8 1789.0,2420.8" stroke="#E8959A" stroke-width="1.25"/>
<path d="M1330.3,2104.5C1559.7,2104.5 1559.7,2434.0 1789.0,2434.0" stroke="#E8959A" stroke-width="1.25"/>
<path d="M1330.3,2104.6C1559.7,2104.6 1559.7,2447.0 1789.0,2447.0" stroke="#E8959A" stroke-width="1.25"/>
<path d="M1330.3,2124.5C1559.7,2124.5 1559.7,1909.5 1789.0,1909.5" stroke="#B0908B" stroke-width="1.25"/>
<path d="M1330.3,2124.6C1559.7,2124.6 1559.7,1955.5 1789.0,1955.5" stroke="#B0908B" stroke-width="1.25"/>
<path d="M1330.3,2124.6C1559.7,2124.6 1559.7,2018.6 1789.0,2018.6" stroke="#B0908B" stroke-width="1.25"/>
<path d="M1330.3,2124.7C1559.7,2124.7 1559.7,2049.1 1789.0,2049.1" stroke="#B0908B" stroke-width="1.25"/>
<path d="M1330.3,2124.8C1559.7,2124.8 1559.7,2079.2 1789.0,2079.2" stroke="#B0908B" stroke-width="1.25"/>
<path d="M1330.3,2124.9C1559.7,2124.9 1559.7,2106.6 1789.0,2106.6" stroke="#B0908B" stroke-width="1.25"/>
<path d="M1330.3,2124.9C1559.7,2124.9 1559.7,2132.3 1789.0,2132.3" stroke="#B0908B" stroke-width="1.25"/>
<path d="M1330.3,2124.9C1559.7,2124.9 1559.7,2192.6 1789.0,2192.6" stroke="#B0908B" stroke-width="1.25"/>
<path d="M1330.3,2138.4C1559.7,2138.4 1559.7,1877.8 1789.0,1877.8" stroke="#E87B6B" stroke-width="1.25"/>
<path d="M1330.3,2138.6C1559.7,2138.6 1559.7,1909.8 1789.0,1909.8" stroke="#E87B6B" stroke-width="1.25"/>
<path d="M1330.3,2139.2C1559.7,2139.2 1559.7,1955.9 1789.0,1955.9" stroke="#E87B6B" stroke-width="1.25"/>
<path d="M1330.3,2154.9C1559.7,2154.9 1559.7,1878.4 1789.0,1878.4" stroke="#4DA64D" stroke-width="1.25"/>
<path d="M1330.3,2155.7C1559.7,2155.7 1559.7,2018.8 1789.0,2018.8" stroke="#4DA64D" stroke-width="1.25"/>
<path d="M1330.3,2171.5C1559.7,2171.5 1559.7,1785.1 1789.0,1785.1" stroke="#7EC8E3" stroke-width="1.25"/>
<path d="M1330.3,2172.0C1559.7,2172.0 1559.7,1879.0 1789.0,1879.0" stroke="#7EC8E3" stroke-width="1.25"/>
<path d="M1330.3,2172.0C1559.7,2172.0 1559.7,1956.3 1789.0,1956.3" stroke="#7EC8E3" stroke-width="1.25"/>
<path d="M1330.3,2184.8C1559.7,2184.8 1559.7,1879.0 1789.0,1879.0" stroke="#E377A2" stroke-width="1.25"/>
<path d="M1330.3,2184.8C1559.7,2184.8 1559.7,1910.0 1789.0,1910.0" stroke="#E377A2" stroke-width="1.25"/>
<path d="M1330.3,2184.9C1559.7,2184.9 1559.7,2019.0 1789.0,2019.0" stroke="#E377A2" stroke-width="1.25"/>
<path d="M1330.3,2185.3C1559.7,2185.3 1559.7,2079.7 1789.0,2079.7" stroke="#E377A2" stroke-width="1.25"/>
<path d="M1330.3,2197.9C1559.7,2197.9 1559.7,1910.6 1789.0,1910.6" stroke="#E8843A" stroke-width="1.25"/>
</g>
<rect x="1310.4" y="1739.0" width="19.9" height="116.3" fill="#E8843A" stroke="#2a2a2a" stroke-width="1.1"/>
<text x="1336.4" y="1806.7" font-size="24.5">Bacteroidota</text>
<rect x="1310.4" y="1868.3" width="19.9" height="49.3" fill="#8E6BA8" stroke="#2a2a2a" stroke-width="1.1"/>
<text x="1336.4" y="1899.6" font-size="24.5">Bacillota</text>
<rect x="1310.4" y="1931.0" width="19.9" height="55.1" fill="#A5CE8E" stroke="#2a2a2a" stroke-width="1.1"/>
<text x="1336.4" y="1968.1" font-size="24.5">Fusobacteriota</text>
<rect x="1310.4" y="1999.9" width="19.9" height="49.3" fill="#3F75AC" stroke="#2a2a2a" stroke-width="1.1"/>
<text x="1336.4" y="2030.5" font-size="24.5">Actinomycetota</text>
<rect x="1310.4" y="2063.0" width="19.9" height="41.7" fill="#E8959A" stroke="#2a2a2a" stroke-width="1.1"/>
<text x="1336.4" y="2092.0" font-size="24.5">Pseudomonadota</text>
<rect x="1310.4" y="2118.1" width="19.9" height="6.9" fill="#B0908B" stroke="#2a2a2a" stroke-width="1.1"/>
<text x="1336.4" y="2118.8" font-size="24.5">Synergistota</text>
<rect x="1310.4" y="2138.4" width="19.9" height="2.3" fill="#E87B6B"/>
<text x="1336.4" y="2139.1" font-size="24.5">Spirochaetota</text>
<rect x="1310.4" y="2154.4" width="19.9" height="3.5" fill="#4DA64D" stroke="#2a2a2a" stroke-width="1.1"/>
<text x="1336.4" y="2158.2" font-size="24.5">Campylobacterota</text>
<rect x="1310.4" y="2171.0" width="19.9" height="1.0" fill="#333"/>
<text x="1336.4" y="2177.4" font-size="24.5">Euryarchaeota</text>
<rect x="1310.4" y="2184.8" width="19.9" height="1.0" fill="#333"/>
<text x="1336.4" y="2197.3" font-size="24.5">Candidatus Saccharibacteria</text>
<rect x="1310.4" y="2197.4" width="19.9" height="1.0" fill="#333"/>
<text x="1336.4" y="2216.8" font-size="24.5">Basidiomycota</text>
<rect x="1789" y="1739.0" width="19.1" height="46.6" fill="#F5C462" stroke="#2a2a2a" stroke-width="1.1"/>
<text x="1784" y="1767.7" font-size="23.8" text-anchor="end">G 1.77x10<tspan font-size="15.5" dy="-10">11</tspan></text>
<rect x="1789" y="1799.8" width="19.1" height="79.2" fill="#C8855A" stroke="#2a2a2a" stroke-width="1.1"/>
<text x="1784" y="1845" font-size="23.8" text-anchor="end">J 2.97x10<tspan font-size="15.5" dy="-10">11</tspan></text>
<rect x="1789" y="1892.8" width="19.1" height="18.3" fill="#B5A083" stroke="#2a2a2a" stroke-width="1.1"/>
<text x="1784" y="1909.2" font-size="23.8" text-anchor="end">UW 6.95x10<tspan font-size="15.5" dy="-10">10</tspan></text>
<rect x="1789" y="1924.5" width="19.1" height="31.8" fill="#EFD79F" stroke="#2a2a2a" stroke-width="1.1"/>
<text x="1784" y="1948.2" font-size="23.8" text-anchor="end">C 1.21x10<tspan font-size="15.5" dy="-10">11</tspan></text>
<rect x="1789" y="1969.6" width="19.1" height="49.4" fill="#D8A78C" stroke="#2a2a2a" stroke-width="1.1"/>
<text x="1784" y="2001.8" font-size="23.8" text-anchor="end">M 1.84x10<tspan font-size="15.5" dy="-10">11</tspan></text>
<rect x="1789" y="2032.4" width="19.1" height="16.8" fill="#737A5E" stroke="#2a2a2a" stroke-width="1.1"/>
<text x="1784" y="2048.5" font-size="23.8" text-anchor="end">O 6.28x10<tspan font-size="15.5" dy="-10">10</tspan></text>
<rect x="1789" y="2062.2" width="19.1" height="18.0" fill="#96A5D8" stroke="#2a2a2a" stroke-width="1.1"/>
<text x="1784" y="2078.3" font-size="23.8" text-anchor="end">E 6.77x10<tspan font-size="15.5" dy="-10">10</tspan></text>
<rect x="1789" y="2093.2" width="19.1" height="13.4" fill="#8B6F5E" stroke="#2a2a2a" stroke-width="1.1"/>
<text x="1784" y="2106.6" font-size="23.8" text-anchor="end">S 5.06x10<tspan font-size="15.5" dy="-10">10</tspan></text>
<rect x="1789" y="2120.0" width="19.1" height="15.7" fill="#7A4A22" stroke="#2a2a2a" stroke-width="1.1"/>
<text x="1784" y="2134.1" font-size="23.8" text-anchor="end">H 5.88x10<tspan font-size="15.5" dy="-10">10</tspan></text>
<rect x="1789" y="2149.0" width="19.1" height="7.7" fill="#E87B6B" stroke="#2a2a2a" stroke-width="1.1"/>
<text x="1784" y="2158.2" font-size="23.8" text-anchor="end">Unassigned 2.92x10<tspan font-size="15.5" dy="-10">10</tspan></text>
<rect x="1789" y="2169.3" width="19.1" height="2.7" fill="#3A7D44"/>
<text x="1784" y="2177.4" font-size="23.8" text-anchor="end">KT 9.21x10<tspan font-size="15.5" dy="-10">9</tspan></text>
<rect x="1789" y="2185.4" width="19.1" height="7.3" fill="#DDEFF0" stroke="#2a2a2a" stroke-width="1.1"/>
<text x="1784" y="2197.7" font-size="23.8" text-anchor="end">P 2.67x10<tspan font-size="15.5" dy="-10">10</tspan></text>
<rect x="1789" y="2205.7" width="19.1" height="2.7" fill="#9A9A9A"/>
<text x="1784" y="2215.6" font-size="23.8" text-anchor="end">D 1.14x10<tspan font-size="15.5" dy="-10">10</tspan></text>
<rect x="1789" y="2221.4" width="19.1" height="3.8" fill="#3EB5C5" stroke="#2a2a2a" stroke-width="1.1"/>
<text x="1784" y="2234.8" font-size="23.8" text-anchor="end">F 1.47x10<tspan font-size="15.5" dy="-10">10</tspan></text>
<rect x="1789" y="2239.0" width="19.1" height="3.8" fill="#C5D8F0" stroke="#2a2a2a" stroke-width="1.1"/>
<text x="1784.5" y="2245.5" font-size="16.5" text-anchor="end">I</text>
<rect x="1789" y="2255.8" width="19.1" height="3.1" fill="#B85C4A" stroke="#2a2a2a" stroke-width="1.1"/>
<text x="1784.5" y="2262.3" font-size="16.5" text-anchor="end">K</text>
<rect x="1789" y="2272.2" width="19.1" height="2.0" fill="#9A9A9A"/>
<text x="1784.5" y="2277.6" font-size="16.5" text-anchor="end">U</text>
<rect x="1789" y="2286.8" width="19.1" height="0.8" fill="#7B93D0"/>
<text x="1784.5" y="2292.1" font-size="16.5" text-anchor="end">IQ</text>
<rect x="1789" y="2300.6" width="19.1" height="0.8" fill="#333"/>
<text x="1784.5" y="2305.5" font-size="16.5" text-anchor="end">MP</text>
<rect x="1789" y="2313.9" width="19.1" height="0.8" fill="#333"/>
<text x="1784.5" y="2318.9" font-size="16.5" text-anchor="end">L</text>
<rect x="1789" y="2327.3" width="19.1" height="0.8" fill="#333"/>
<text x="1784.5" y="2333.1" font-size="16.5" text-anchor="end">EM</text>
<rect x="1789" y="2340.7" width="19.1" height="0.8" fill="#333"/>
<text x="1784.5" y="2345.7" font-size="16.5" text-anchor="end">EH</text>
<rect x="1789" y="2354.1" width="19.1" height="0.8" fill="#333"/>
<text x="1784.5" y="2359.9" font-size="16.5" text-anchor="end">EF</text>
<rect x="1789" y="2367.1" width="19.1" height="0.8" fill="#333"/>
<text x="1784.5" y="2372.5" font-size="16.5" text-anchor="end">T</text>
<rect x="1789" y="2380.5" width="19.1" height="0.8" fill="#333"/>
<text x="1784.5" y="2385.9" font-size="16.5" text-anchor="end">NU</text>
<rect x="1789" y="2393.5" width="19.1" height="0.8" fill="#333"/>
<text x="1784.5" y="2399.3" font-size="16.5" text-anchor="end">CE</text>
<rect x="1789" y="2406.9" width="19.1" height="0.8" fill="#333"/>
<text x="1784.5" y="2411.9" font-size="16.5" text-anchor="end">CO</text>
<rect x="1789" y="2420.3" width="19.1" height="0.8" fill="#333"/>
<text x="1784.5" y="2426.0" font-size="16.5" text-anchor="end">NT</text>
<rect x="1789" y="2433.3" width="19.1" height="0.8" fill="#333"/>
<text x="1784.5" y="2438.7" font-size="16.5" text-anchor="end">Q</text>
<rect x="1789" y="2446.3" width="19.1" height="0.8" fill="#333"/>
<text x="1784.5" y="2452.8" font-size="16.5" text-anchor="end">DM</text>
<rect x="1789" y="2459.7" width="19.1" height="0.8" fill="#333"/>
<text x="1784.5" y="2468.9" font-size="16.5" text-anchor="end">CQ</text>
<rect x="1789" y="2472.7" width="19.1" height="0.8" fill="#E0A45E"/>
<text x="1784.5" y="2483.4" font-size="16.5" text-anchor="end">N</text>
<text x="1557.5" y="1728.3" font-size="41.7" text-anchor="middle">OSaMPle</text>
<text x="1300.4" y="1732.0" font-size="28">Phylum</text>
<text x="1657.8" y="1732.0" font-size="28">COG Category</text>
<text x="4.0" y="1737.8" font-size="53.5" font-weight="bold">e</text>
</svg>
</body></html>
